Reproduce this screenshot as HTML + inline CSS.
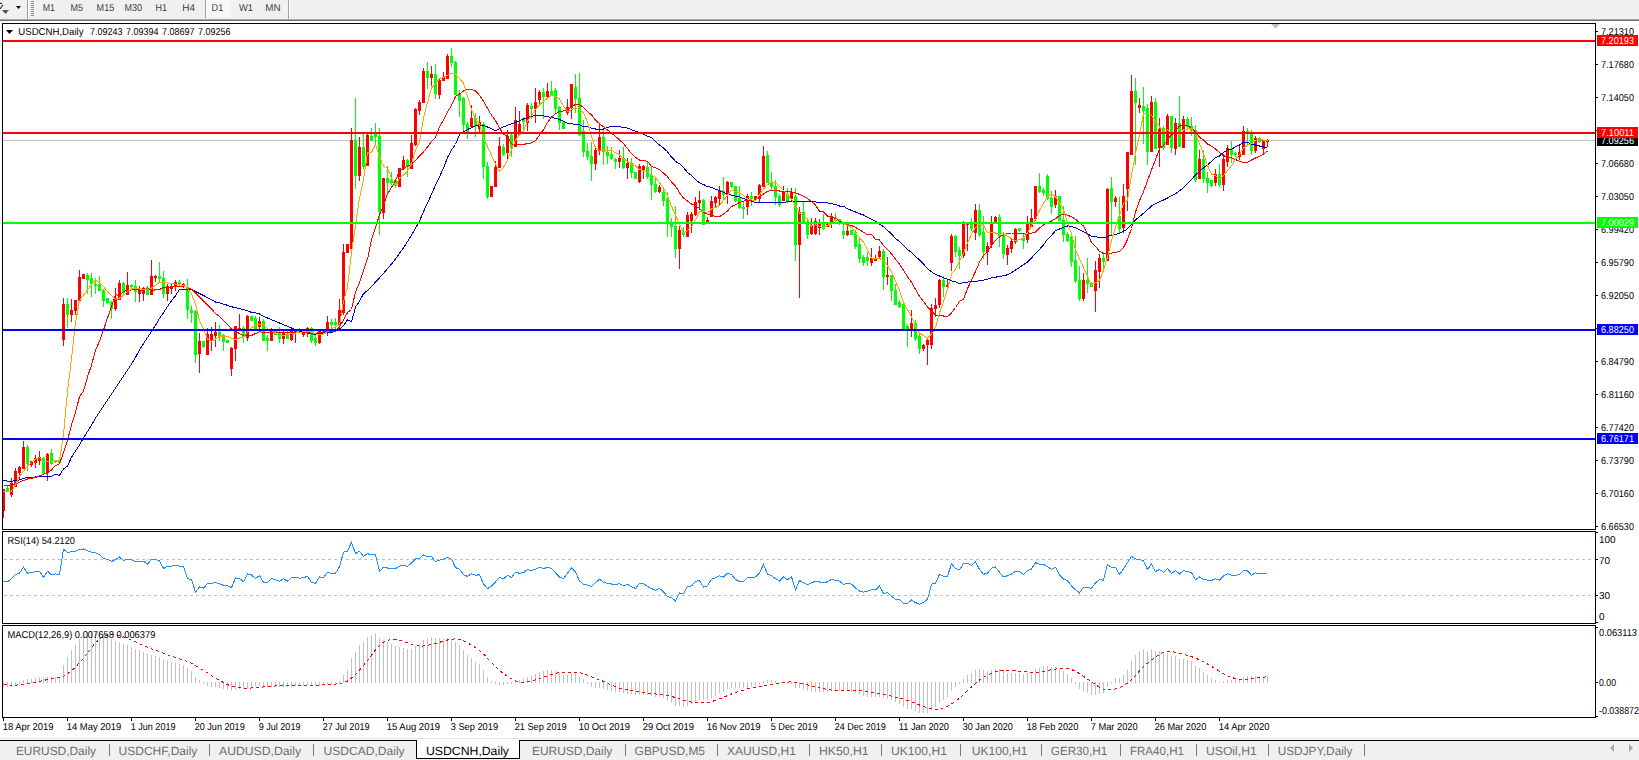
<!DOCTYPE html>
<html><head><meta charset="utf-8"><title>USDCNH,Daily</title>
<style>html,body{margin:0;padding:0;background:#fff;width:1639px;height:760px;overflow:hidden;position:relative;font-family:"Liberation Sans",sans-serif}</style>
</head><body>
<svg width="1639" height="760" viewBox="0 0 1639 760" style="position:absolute;left:0;top:0" font-family='"Liberation Sans", sans-serif' text-rendering="geometricPrecision">
<rect x="0" y="0" width="1639" height="760" fill="#ffffff"/>
<rect x="0" y="0" width="1639" height="19" fill="#f0f0f0"/>
<rect x="0" y="19" width="1639" height="1" fill="#a8a8a8"/>
<rect x="0" y="20" width="1639" height="1" fill="#6e6e6e"/>
<rect x="27" y="0" width="1" height="19" fill="#a0a0a0"/>
<rect x="28" y="0" width="1" height="19" fill="#ffffff"/>
<rect x="31" y="1" width="3" height="1" fill="#8c8c8c"/>
<rect x="31" y="3" width="3" height="1" fill="#8c8c8c"/>
<rect x="31" y="5" width="3" height="1" fill="#8c8c8c"/>
<rect x="31" y="7" width="3" height="1" fill="#8c8c8c"/>
<rect x="31" y="9" width="3" height="1" fill="#8c8c8c"/>
<rect x="31" y="11" width="3" height="1" fill="#8c8c8c"/>
<rect x="31" y="13" width="3" height="1" fill="#8c8c8c"/>
<rect x="31" y="15" width="3" height="1" fill="#8c8c8c"/>
<polygon points="16,6 21,6 18.5,9" fill="#000"/>
<path d="M0,3 L2,4 M3,5 L0,9" stroke="#333" stroke-width="1.2" fill="none"/>
<polygon points="2,10 9,10 5.5,14" fill="#555"/>
<rect x="205" y="0" width="1" height="18" fill="#a0a0a0"/>
<rect x="206" y="0" width="25" height="18" fill="#f7f7f7"/>
<rect x="288" y="0" width="1" height="19" fill="#a0a0a0"/>
<rect x="289" y="0" width="1" height="19" fill="#ffffff"/>
<text x="42.7" y="11" font-size="10" fill="#3c3c3c" text-anchor="start" textLength="12.2" lengthAdjust="spacingAndGlyphs">M1</text>
<text x="70.6" y="11" font-size="10" fill="#3c3c3c" text-anchor="start" textLength="12.4" lengthAdjust="spacingAndGlyphs">M5</text>
<text x="96.6" y="11" font-size="10" fill="#3c3c3c" text-anchor="start" textLength="17.6" lengthAdjust="spacingAndGlyphs">M15</text>
<text x="124.4" y="11" font-size="10" fill="#3c3c3c" text-anchor="start" textLength="17.6" lengthAdjust="spacingAndGlyphs">M30</text>
<text x="155.5" y="11" font-size="10" fill="#3c3c3c" text-anchor="start" textLength="11.5" lengthAdjust="spacingAndGlyphs">H1</text>
<text x="182.3" y="11" font-size="10" fill="#3c3c3c" text-anchor="start" textLength="12.7" lengthAdjust="spacingAndGlyphs">H4</text>
<text x="211.6" y="11" font-size="10" fill="#3c3c3c" text-anchor="start" textLength="11.6" lengthAdjust="spacingAndGlyphs">D1</text>
<text x="239" y="11" font-size="10" fill="#3c3c3c" text-anchor="start" textLength="14" lengthAdjust="spacingAndGlyphs">W1</text>
<text x="265.2" y="11" font-size="10" fill="#3c3c3c" text-anchor="start" textLength="15.3" lengthAdjust="spacingAndGlyphs">MN</text>
<g shape-rendering="crispEdges">
<rect x="2.5" y="23.5" width="1593" height="506" fill="none" stroke="#000" stroke-width="1"/>
<rect x="2.5" y="531.5" width="1593" height="92" fill="none" stroke="#000" stroke-width="1"/>
<rect x="2.5" y="625.5" width="1593" height="92" fill="none" stroke="#000" stroke-width="1"/>
</g>
<rect x="1596" y="31" width="2" height="1" fill="#000"/>
<text x="1601" y="34.5" font-size="10" fill="#000" text-anchor="start" textLength="33" lengthAdjust="spacingAndGlyphs">7.21310</text>
<rect x="1596" y="64" width="2" height="1" fill="#000"/>
<text x="1601" y="67.5" font-size="10" fill="#000" text-anchor="start" textLength="33" lengthAdjust="spacingAndGlyphs">7.17680</text>
<rect x="1596" y="97" width="2" height="1" fill="#000"/>
<text x="1601" y="100.5" font-size="10" fill="#000" text-anchor="start" textLength="33" lengthAdjust="spacingAndGlyphs">7.14050</text>
<rect x="1596" y="130" width="2" height="1" fill="#000"/>
<text x="1601" y="133.5" font-size="10" fill="#000" text-anchor="start" textLength="33" lengthAdjust="spacingAndGlyphs">7.10420</text>
<rect x="1596" y="163" width="2" height="1" fill="#000"/>
<text x="1601" y="166.5" font-size="10" fill="#000" text-anchor="start" textLength="33" lengthAdjust="spacingAndGlyphs">7.06680</text>
<rect x="1596" y="196" width="2" height="1" fill="#000"/>
<text x="1601" y="199.5" font-size="10" fill="#000" text-anchor="start" textLength="33" lengthAdjust="spacingAndGlyphs">7.03050</text>
<rect x="1596" y="229" width="2" height="1" fill="#000"/>
<text x="1601" y="232.5" font-size="10" fill="#000" text-anchor="start" textLength="33" lengthAdjust="spacingAndGlyphs">6.99420</text>
<rect x="1596" y="262" width="2" height="1" fill="#000"/>
<text x="1601" y="265.5" font-size="10" fill="#000" text-anchor="start" textLength="33" lengthAdjust="spacingAndGlyphs">6.95790</text>
<rect x="1596" y="295" width="2" height="1" fill="#000"/>
<text x="1601" y="298.5" font-size="10" fill="#000" text-anchor="start" textLength="33" lengthAdjust="spacingAndGlyphs">6.92050</text>
<rect x="1596" y="328" width="2" height="1" fill="#000"/>
<text x="1601" y="331.5" font-size="10" fill="#000" text-anchor="start" textLength="33" lengthAdjust="spacingAndGlyphs">6.88420</text>
<rect x="1596" y="361" width="2" height="1" fill="#000"/>
<text x="1601" y="364.5" font-size="10" fill="#000" text-anchor="start" textLength="33" lengthAdjust="spacingAndGlyphs">6.84790</text>
<rect x="1596" y="394" width="2" height="1" fill="#000"/>
<text x="1601" y="397.5" font-size="10" fill="#000" text-anchor="start" textLength="33" lengthAdjust="spacingAndGlyphs">6.81160</text>
<rect x="1596" y="427" width="2" height="1" fill="#000"/>
<text x="1601" y="430.5" font-size="10" fill="#000" text-anchor="start" textLength="33" lengthAdjust="spacingAndGlyphs">6.77420</text>
<rect x="1596" y="460" width="2" height="1" fill="#000"/>
<text x="1601" y="463.5" font-size="10" fill="#000" text-anchor="start" textLength="33" lengthAdjust="spacingAndGlyphs">6.73790</text>
<rect x="1596" y="493" width="2" height="1" fill="#000"/>
<text x="1601" y="496.5" font-size="10" fill="#000" text-anchor="start" textLength="33" lengthAdjust="spacingAndGlyphs">6.70160</text>
<rect x="1596" y="526" width="2" height="1" fill="#000"/>
<text x="1601" y="529.5" font-size="10" fill="#000" text-anchor="start" textLength="33" lengthAdjust="spacingAndGlyphs">6.66530</text>
<polygon points="1271,24 1280,24 1275.5,28.5" fill="#c0c0c0"/>
<defs><clipPath id="cm"><rect x="3" y="24" width="1592" height="505"/></clipPath><clipPath id="cr"><rect x="3" y="532" width="1592" height="90"/></clipPath><clipPath id="cd"><rect x="3" y="626" width="1592" height="91"/></clipPath></defs>
<g clip-path="url(#cm)">
<g shape-rendering="crispEdges">
<rect x="3" y="140" width="1592" height="1" fill="#c0c0c0"/>
<rect x="3" y="489" width="1" height="29" fill="#ff0000"/>
<rect x="2" y="489" width="3" height="22" fill="#ff0000"/>
<rect x="7" y="486" width="1" height="6" fill="#00ff00"/>
<rect x="6" y="488" width="3" height="4" fill="#00ff00"/>
<rect x="11" y="478" width="1" height="19" fill="#ff0000"/>
<rect x="10" y="483" width="3" height="12" fill="#ff0000"/>
<rect x="15" y="468" width="1" height="19" fill="#ff0000"/>
<rect x="14" y="471" width="3" height="16" fill="#ff0000"/>
<rect x="19" y="466" width="1" height="13" fill="#ff0000"/>
<rect x="18" y="467" width="3" height="6" fill="#ff0000"/>
<rect x="23" y="441" width="1" height="28" fill="#ff0000"/>
<rect x="22" y="447" width="3" height="22" fill="#ff0000"/>
<rect x="27" y="445" width="1" height="26" fill="#00ff00"/>
<rect x="26" y="447" width="3" height="17" fill="#00ff00"/>
<rect x="31" y="461" width="1" height="6" fill="#ff0000"/>
<rect x="30" y="461" width="3" height="4" fill="#ff0000"/>
<rect x="35" y="455" width="1" height="13" fill="#ff0000"/>
<rect x="34" y="458" width="3" height="5" fill="#ff0000"/>
<rect x="39" y="451" width="1" height="14" fill="#ff0000"/>
<rect x="38" y="457" width="3" height="4" fill="#ff0000"/>
<rect x="43" y="457" width="1" height="18" fill="#00ff00"/>
<rect x="42" y="458" width="3" height="15" fill="#00ff00"/>
<rect x="47" y="453" width="1" height="28" fill="#ff0000"/>
<rect x="46" y="454" width="3" height="19" fill="#ff0000"/>
<rect x="51" y="449" width="1" height="16" fill="#00ff00"/>
<rect x="50" y="453" width="3" height="11" fill="#00ff00"/>
<rect x="55" y="460" width="1" height="3" fill="#00ff00"/>
<rect x="54" y="460" width="3" height="2" fill="#00ff00"/>
<rect x="59" y="460" width="1" height="3" fill="#00ff00"/>
<rect x="58" y="460" width="3" height="3" fill="#00ff00"/>
<rect x="63" y="298" width="1" height="48" fill="#ff0000"/>
<rect x="62" y="304" width="3" height="36" fill="#ff0000"/>
<rect x="67" y="298" width="1" height="30" fill="#00ff00"/>
<rect x="66" y="304" width="3" height="11" fill="#00ff00"/>
<rect x="71" y="299" width="1" height="23" fill="#ff0000"/>
<rect x="70" y="310" width="3" height="5" fill="#ff0000"/>
<rect x="75" y="300" width="1" height="15" fill="#ff0000"/>
<rect x="74" y="300" width="3" height="11" fill="#ff0000"/>
<rect x="79" y="270" width="1" height="31" fill="#ff0000"/>
<rect x="78" y="277" width="3" height="24" fill="#ff0000"/>
<rect x="83" y="274" width="1" height="5" fill="#ff0000"/>
<rect x="82" y="274" width="3" height="5" fill="#ff0000"/>
<rect x="87" y="273" width="1" height="21" fill="#00ff00"/>
<rect x="86" y="275" width="3" height="5" fill="#00ff00"/>
<rect x="91" y="273" width="1" height="24" fill="#00ff00"/>
<rect x="90" y="278" width="3" height="6" fill="#00ff00"/>
<rect x="95" y="278" width="1" height="16" fill="#00ff00"/>
<rect x="94" y="284" width="3" height="2" fill="#00ff00"/>
<rect x="99" y="276" width="1" height="15" fill="#00ff00"/>
<rect x="98" y="284" width="3" height="7" fill="#00ff00"/>
<rect x="103" y="289" width="1" height="18" fill="#00ff00"/>
<rect x="102" y="290" width="3" height="11" fill="#00ff00"/>
<rect x="107" y="298" width="1" height="6" fill="#00ff00"/>
<rect x="106" y="298" width="3" height="5" fill="#00ff00"/>
<rect x="111" y="301" width="1" height="18" fill="#00ff00"/>
<rect x="110" y="302" width="3" height="7" fill="#00ff00"/>
<rect x="115" y="288" width="1" height="23" fill="#ff0000"/>
<rect x="114" y="298" width="3" height="11" fill="#ff0000"/>
<rect x="119" y="280" width="1" height="20" fill="#ff0000"/>
<rect x="118" y="283" width="3" height="17" fill="#ff0000"/>
<rect x="123" y="282" width="1" height="14" fill="#00ff00"/>
<rect x="122" y="283" width="3" height="10" fill="#00ff00"/>
<rect x="127" y="272" width="1" height="23" fill="#ff0000"/>
<rect x="126" y="285" width="3" height="10" fill="#ff0000"/>
<rect x="131" y="284" width="1" height="5" fill="#00ff00"/>
<rect x="130" y="285" width="3" height="2" fill="#00ff00"/>
<rect x="135" y="280" width="1" height="22" fill="#00ff00"/>
<rect x="134" y="286" width="3" height="6" fill="#00ff00"/>
<rect x="139" y="286" width="1" height="16" fill="#ff0000"/>
<rect x="138" y="290" width="3" height="4" fill="#ff0000"/>
<rect x="143" y="287" width="1" height="14" fill="#ff0000"/>
<rect x="142" y="288" width="3" height="6" fill="#ff0000"/>
<rect x="147" y="286" width="1" height="9" fill="#00ff00"/>
<rect x="146" y="289" width="3" height="6" fill="#00ff00"/>
<rect x="151" y="260" width="1" height="35" fill="#ff0000"/>
<rect x="150" y="276" width="3" height="19" fill="#ff0000"/>
<rect x="155" y="275" width="1" height="7" fill="#ff0000"/>
<rect x="154" y="276" width="3" height="2" fill="#ff0000"/>
<rect x="159" y="262" width="1" height="20" fill="#00ff00"/>
<rect x="158" y="276" width="3" height="3" fill="#00ff00"/>
<rect x="163" y="271" width="1" height="27" fill="#00ff00"/>
<rect x="162" y="278" width="3" height="16" fill="#00ff00"/>
<rect x="167" y="284" width="1" height="17" fill="#ff0000"/>
<rect x="166" y="286" width="3" height="8" fill="#ff0000"/>
<rect x="171" y="284" width="1" height="10" fill="#ff0000"/>
<rect x="170" y="286" width="3" height="3" fill="#ff0000"/>
<rect x="175" y="280" width="1" height="11" fill="#ff0000"/>
<rect x="174" y="282" width="3" height="5" fill="#ff0000"/>
<rect x="179" y="280" width="1" height="7" fill="#00ff00"/>
<rect x="178" y="282" width="3" height="3" fill="#00ff00"/>
<rect x="183" y="283" width="1" height="5" fill="#ff0000"/>
<rect x="182" y="284" width="3" height="3" fill="#ff0000"/>
<rect x="187" y="279" width="1" height="40" fill="#00ff00"/>
<rect x="186" y="287" width="3" height="23" fill="#00ff00"/>
<rect x="191" y="306" width="1" height="17" fill="#00ff00"/>
<rect x="190" y="310" width="3" height="3" fill="#00ff00"/>
<rect x="195" y="310" width="1" height="53" fill="#00ff00"/>
<rect x="194" y="311" width="3" height="44" fill="#00ff00"/>
<rect x="199" y="333" width="1" height="40" fill="#ff0000"/>
<rect x="198" y="341" width="3" height="13" fill="#ff0000"/>
<rect x="203" y="341" width="1" height="7" fill="#00ff00"/>
<rect x="202" y="341" width="3" height="6" fill="#00ff00"/>
<rect x="207" y="328" width="1" height="27" fill="#ff0000"/>
<rect x="206" y="334" width="3" height="21" fill="#ff0000"/>
<rect x="211" y="327" width="1" height="24" fill="#ff0000"/>
<rect x="210" y="334" width="3" height="7" fill="#ff0000"/>
<rect x="215" y="322" width="1" height="25" fill="#ff0000"/>
<rect x="214" y="332" width="3" height="4" fill="#ff0000"/>
<rect x="219" y="325" width="1" height="16" fill="#00ff00"/>
<rect x="218" y="332" width="3" height="5" fill="#00ff00"/>
<rect x="223" y="334" width="1" height="17" fill="#00ff00"/>
<rect x="222" y="335" width="3" height="7" fill="#00ff00"/>
<rect x="227" y="340" width="1" height="3" fill="#00ff00"/>
<rect x="226" y="340" width="3" height="3" fill="#00ff00"/>
<rect x="231" y="347" width="1" height="29" fill="#ff0000"/>
<rect x="230" y="348" width="3" height="21" fill="#ff0000"/>
<rect x="235" y="326" width="1" height="35" fill="#ff0000"/>
<rect x="234" y="326" width="3" height="23" fill="#ff0000"/>
<rect x="239" y="314" width="1" height="17" fill="#ff0000"/>
<rect x="238" y="328" width="3" height="3" fill="#ff0000"/>
<rect x="243" y="326" width="1" height="17" fill="#00ff00"/>
<rect x="242" y="328" width="3" height="9" fill="#00ff00"/>
<rect x="247" y="315" width="1" height="26" fill="#ff0000"/>
<rect x="246" y="316" width="3" height="22" fill="#ff0000"/>
<rect x="251" y="316" width="1" height="5" fill="#00ff00"/>
<rect x="250" y="316" width="3" height="5" fill="#00ff00"/>
<rect x="255" y="316" width="1" height="13" fill="#00ff00"/>
<rect x="254" y="318" width="3" height="11" fill="#00ff00"/>
<rect x="259" y="317" width="1" height="13" fill="#ff0000"/>
<rect x="258" y="321" width="3" height="6" fill="#ff0000"/>
<rect x="263" y="319" width="1" height="22" fill="#00ff00"/>
<rect x="262" y="321" width="3" height="20" fill="#00ff00"/>
<rect x="267" y="335" width="1" height="16" fill="#00ff00"/>
<rect x="266" y="338" width="3" height="3" fill="#00ff00"/>
<rect x="271" y="328" width="1" height="13" fill="#ff0000"/>
<rect x="270" y="331" width="3" height="10" fill="#ff0000"/>
<rect x="275" y="331" width="1" height="4" fill="#00ff00"/>
<rect x="274" y="331" width="3" height="4" fill="#00ff00"/>
<rect x="279" y="327" width="1" height="16" fill="#00ff00"/>
<rect x="278" y="332" width="3" height="7" fill="#00ff00"/>
<rect x="283" y="330" width="1" height="14" fill="#ff0000"/>
<rect x="282" y="332" width="3" height="7" fill="#ff0000"/>
<rect x="287" y="331" width="1" height="8" fill="#00ff00"/>
<rect x="286" y="334" width="3" height="5" fill="#00ff00"/>
<rect x="291" y="327" width="1" height="14" fill="#ff0000"/>
<rect x="290" y="330" width="3" height="10" fill="#ff0000"/>
<rect x="295" y="330" width="1" height="13" fill="#ff0000"/>
<rect x="294" y="330" width="3" height="3" fill="#ff0000"/>
<rect x="299" y="328" width="1" height="5" fill="#00ff00"/>
<rect x="298" y="330" width="3" height="3" fill="#00ff00"/>
<rect x="303" y="331" width="1" height="6" fill="#ff0000"/>
<rect x="302" y="331" width="3" height="4" fill="#ff0000"/>
<rect x="307" y="327" width="1" height="10" fill="#ff0000"/>
<rect x="306" y="328" width="3" height="5" fill="#ff0000"/>
<rect x="311" y="327" width="1" height="16" fill="#00ff00"/>
<rect x="310" y="328" width="3" height="13" fill="#00ff00"/>
<rect x="315" y="334" width="1" height="12" fill="#00ff00"/>
<rect x="314" y="338" width="3" height="5" fill="#00ff00"/>
<rect x="319" y="331" width="1" height="13" fill="#ff0000"/>
<rect x="318" y="331" width="3" height="12" fill="#ff0000"/>
<rect x="323" y="330" width="1" height="3" fill="#00ff00"/>
<rect x="322" y="330" width="3" height="3" fill="#00ff00"/>
<rect x="327" y="316" width="1" height="20" fill="#ff0000"/>
<rect x="326" y="322" width="3" height="10" fill="#ff0000"/>
<rect x="331" y="319" width="1" height="11" fill="#00ff00"/>
<rect x="330" y="322" width="3" height="3" fill="#00ff00"/>
<rect x="335" y="318" width="1" height="12" fill="#00ff00"/>
<rect x="334" y="322" width="3" height="3" fill="#00ff00"/>
<rect x="339" y="299" width="1" height="26" fill="#ff0000"/>
<rect x="338" y="310" width="3" height="15" fill="#ff0000"/>
<rect x="343" y="244" width="1" height="71" fill="#ff0000"/>
<rect x="342" y="252" width="3" height="61" fill="#ff0000"/>
<rect x="347" y="244" width="1" height="9" fill="#ff0000"/>
<rect x="346" y="244" width="3" height="9" fill="#ff0000"/>
<rect x="351" y="128" width="1" height="121" fill="#ff0000"/>
<rect x="350" y="140" width="3" height="109" fill="#ff0000"/>
<rect x="355" y="98" width="1" height="91" fill="#00ff00"/>
<rect x="354" y="140" width="3" height="36" fill="#00ff00"/>
<rect x="359" y="137" width="1" height="44" fill="#ff0000"/>
<rect x="358" y="147" width="3" height="29" fill="#ff0000"/>
<rect x="363" y="134" width="1" height="35" fill="#00ff00"/>
<rect x="362" y="147" width="3" height="20" fill="#00ff00"/>
<rect x="367" y="134" width="1" height="32" fill="#ff0000"/>
<rect x="366" y="135" width="3" height="31" fill="#ff0000"/>
<rect x="371" y="128" width="1" height="13" fill="#00ff00"/>
<rect x="370" y="136" width="3" height="5" fill="#00ff00"/>
<rect x="375" y="123" width="1" height="22" fill="#00ff00"/>
<rect x="374" y="134" width="3" height="3" fill="#00ff00"/>
<rect x="379" y="128" width="1" height="107" fill="#00ff00"/>
<rect x="378" y="136" width="3" height="76" fill="#00ff00"/>
<rect x="383" y="178" width="1" height="41" fill="#ff0000"/>
<rect x="382" y="178" width="3" height="35" fill="#ff0000"/>
<rect x="387" y="166" width="1" height="29" fill="#00ff00"/>
<rect x="386" y="178" width="3" height="5" fill="#00ff00"/>
<rect x="391" y="172" width="1" height="13" fill="#00ff00"/>
<rect x="390" y="180" width="3" height="3" fill="#00ff00"/>
<rect x="395" y="180" width="1" height="7" fill="#00ff00"/>
<rect x="394" y="180" width="3" height="6" fill="#00ff00"/>
<rect x="399" y="168" width="1" height="19" fill="#ff0000"/>
<rect x="398" y="168" width="3" height="19" fill="#ff0000"/>
<rect x="403" y="156" width="1" height="13" fill="#ff0000"/>
<rect x="402" y="160" width="3" height="9" fill="#ff0000"/>
<rect x="407" y="159" width="1" height="18" fill="#00ff00"/>
<rect x="406" y="160" width="3" height="7" fill="#00ff00"/>
<rect x="411" y="135" width="1" height="34" fill="#ff0000"/>
<rect x="410" y="143" width="3" height="26" fill="#ff0000"/>
<rect x="415" y="108" width="1" height="38" fill="#ff0000"/>
<rect x="414" y="109" width="3" height="36" fill="#ff0000"/>
<rect x="419" y="100" width="1" height="15" fill="#ff0000"/>
<rect x="418" y="102" width="3" height="9" fill="#ff0000"/>
<rect x="423" y="68" width="1" height="35" fill="#ff0000"/>
<rect x="422" y="71" width="3" height="32" fill="#ff0000"/>
<rect x="427" y="62" width="1" height="27" fill="#00ff00"/>
<rect x="426" y="71" width="3" height="7" fill="#00ff00"/>
<rect x="431" y="66" width="1" height="20" fill="#ff0000"/>
<rect x="430" y="74" width="3" height="4" fill="#ff0000"/>
<rect x="435" y="64" width="1" height="35" fill="#00ff00"/>
<rect x="434" y="74" width="3" height="20" fill="#00ff00"/>
<rect x="439" y="79" width="1" height="20" fill="#ff0000"/>
<rect x="438" y="80" width="3" height="15" fill="#ff0000"/>
<rect x="443" y="72" width="1" height="9" fill="#ff0000"/>
<rect x="442" y="77" width="3" height="4" fill="#ff0000"/>
<rect x="447" y="54" width="1" height="25" fill="#ff0000"/>
<rect x="446" y="56" width="3" height="23" fill="#ff0000"/>
<rect x="451" y="48" width="1" height="19" fill="#00ff00"/>
<rect x="450" y="56" width="3" height="7" fill="#00ff00"/>
<rect x="455" y="61" width="1" height="34" fill="#00ff00"/>
<rect x="454" y="62" width="3" height="33" fill="#00ff00"/>
<rect x="459" y="90" width="1" height="27" fill="#00ff00"/>
<rect x="458" y="93" width="3" height="8" fill="#00ff00"/>
<rect x="463" y="97" width="1" height="36" fill="#00ff00"/>
<rect x="462" y="98" width="3" height="27" fill="#00ff00"/>
<rect x="467" y="122" width="1" height="17" fill="#00ff00"/>
<rect x="466" y="124" width="3" height="9" fill="#00ff00"/>
<rect x="471" y="105" width="1" height="22" fill="#ff0000"/>
<rect x="470" y="118" width="3" height="9" fill="#ff0000"/>
<rect x="475" y="113" width="1" height="24" fill="#00ff00"/>
<rect x="474" y="118" width="3" height="8" fill="#00ff00"/>
<rect x="479" y="116" width="1" height="17" fill="#ff0000"/>
<rect x="478" y="122" width="3" height="7" fill="#ff0000"/>
<rect x="483" y="122" width="1" height="57" fill="#00ff00"/>
<rect x="482" y="124" width="3" height="43" fill="#00ff00"/>
<rect x="487" y="162" width="1" height="37" fill="#00ff00"/>
<rect x="486" y="166" width="3" height="31" fill="#00ff00"/>
<rect x="491" y="186" width="1" height="11" fill="#ff0000"/>
<rect x="490" y="186" width="3" height="11" fill="#ff0000"/>
<rect x="495" y="161" width="1" height="26" fill="#ff0000"/>
<rect x="494" y="167" width="3" height="20" fill="#ff0000"/>
<rect x="499" y="137" width="1" height="31" fill="#ff0000"/>
<rect x="498" y="146" width="3" height="22" fill="#ff0000"/>
<rect x="503" y="144" width="1" height="12" fill="#00ff00"/>
<rect x="502" y="147" width="3" height="8" fill="#00ff00"/>
<rect x="507" y="130" width="1" height="31" fill="#ff0000"/>
<rect x="506" y="136" width="3" height="17" fill="#ff0000"/>
<rect x="511" y="132" width="1" height="25" fill="#00ff00"/>
<rect x="510" y="135" width="3" height="13" fill="#00ff00"/>
<rect x="515" y="107" width="1" height="40" fill="#ff0000"/>
<rect x="514" y="120" width="3" height="27" fill="#ff0000"/>
<rect x="519" y="111" width="1" height="25" fill="#ff0000"/>
<rect x="518" y="124" width="3" height="11" fill="#ff0000"/>
<rect x="523" y="117" width="1" height="16" fill="#00ff00"/>
<rect x="522" y="118" width="3" height="4" fill="#00ff00"/>
<rect x="527" y="103" width="1" height="28" fill="#ff0000"/>
<rect x="526" y="105" width="3" height="18" fill="#ff0000"/>
<rect x="531" y="103" width="1" height="16" fill="#00ff00"/>
<rect x="530" y="106" width="3" height="3" fill="#00ff00"/>
<rect x="535" y="88" width="1" height="35" fill="#ff0000"/>
<rect x="534" y="102" width="3" height="7" fill="#ff0000"/>
<rect x="539" y="90" width="1" height="14" fill="#ff0000"/>
<rect x="538" y="92" width="3" height="8" fill="#ff0000"/>
<rect x="543" y="88" width="1" height="31" fill="#00ff00"/>
<rect x="542" y="92" width="3" height="5" fill="#00ff00"/>
<rect x="547" y="83" width="1" height="16" fill="#ff0000"/>
<rect x="546" y="91" width="3" height="6" fill="#ff0000"/>
<rect x="551" y="81" width="1" height="15" fill="#00ff00"/>
<rect x="550" y="91" width="3" height="4" fill="#00ff00"/>
<rect x="555" y="88" width="1" height="25" fill="#00ff00"/>
<rect x="554" y="90" width="3" height="19" fill="#00ff00"/>
<rect x="559" y="106" width="1" height="24" fill="#00ff00"/>
<rect x="558" y="107" width="3" height="16" fill="#00ff00"/>
<rect x="563" y="121" width="1" height="8" fill="#00ff00"/>
<rect x="562" y="122" width="3" height="7" fill="#00ff00"/>
<rect x="567" y="99" width="1" height="16" fill="#ff0000"/>
<rect x="566" y="107" width="3" height="6" fill="#ff0000"/>
<rect x="571" y="84" width="1" height="35" fill="#ff0000"/>
<rect x="570" y="84" width="3" height="24" fill="#ff0000"/>
<rect x="575" y="74" width="1" height="39" fill="#00ff00"/>
<rect x="574" y="87" width="3" height="12" fill="#00ff00"/>
<rect x="579" y="73" width="1" height="63" fill="#00ff00"/>
<rect x="578" y="98" width="3" height="37" fill="#00ff00"/>
<rect x="583" y="120" width="1" height="37" fill="#00ff00"/>
<rect x="582" y="131" width="3" height="21" fill="#00ff00"/>
<rect x="587" y="143" width="1" height="17" fill="#00ff00"/>
<rect x="586" y="151" width="3" height="6" fill="#00ff00"/>
<rect x="591" y="142" width="1" height="39" fill="#00ff00"/>
<rect x="590" y="156" width="3" height="8" fill="#00ff00"/>
<rect x="595" y="146" width="1" height="24" fill="#ff0000"/>
<rect x="594" y="150" width="3" height="14" fill="#ff0000"/>
<rect x="599" y="124" width="1" height="31" fill="#ff0000"/>
<rect x="598" y="137" width="3" height="14" fill="#ff0000"/>
<rect x="603" y="129" width="1" height="36" fill="#00ff00"/>
<rect x="602" y="137" width="3" height="15" fill="#00ff00"/>
<rect x="607" y="146" width="1" height="18" fill="#00ff00"/>
<rect x="606" y="152" width="3" height="4" fill="#00ff00"/>
<rect x="611" y="147" width="1" height="13" fill="#00ff00"/>
<rect x="610" y="154" width="3" height="5" fill="#00ff00"/>
<rect x="615" y="158" width="1" height="11" fill="#00ff00"/>
<rect x="614" y="159" width="3" height="3" fill="#00ff00"/>
<rect x="619" y="150" width="1" height="18" fill="#ff0000"/>
<rect x="618" y="158" width="3" height="4" fill="#ff0000"/>
<rect x="623" y="147" width="1" height="22" fill="#00ff00"/>
<rect x="622" y="158" width="3" height="10" fill="#00ff00"/>
<rect x="627" y="158" width="1" height="21" fill="#ff0000"/>
<rect x="626" y="163" width="3" height="5" fill="#ff0000"/>
<rect x="631" y="158" width="1" height="20" fill="#00ff00"/>
<rect x="630" y="163" width="3" height="10" fill="#00ff00"/>
<rect x="635" y="172" width="1" height="7" fill="#00ff00"/>
<rect x="634" y="172" width="3" height="7" fill="#00ff00"/>
<rect x="639" y="164" width="1" height="19" fill="#ff0000"/>
<rect x="638" y="166" width="3" height="16" fill="#ff0000"/>
<rect x="643" y="165" width="1" height="14" fill="#ff0000"/>
<rect x="642" y="166" width="3" height="5" fill="#ff0000"/>
<rect x="647" y="162" width="1" height="17" fill="#00ff00"/>
<rect x="646" y="167" width="3" height="10" fill="#00ff00"/>
<rect x="651" y="166" width="1" height="34" fill="#00ff00"/>
<rect x="650" y="175" width="3" height="10" fill="#00ff00"/>
<rect x="655" y="178" width="1" height="15" fill="#00ff00"/>
<rect x="654" y="184" width="3" height="8" fill="#00ff00"/>
<rect x="659" y="185" width="1" height="8" fill="#ff0000"/>
<rect x="658" y="187" width="3" height="5" fill="#ff0000"/>
<rect x="663" y="188" width="1" height="18" fill="#00ff00"/>
<rect x="662" y="192" width="3" height="9" fill="#00ff00"/>
<rect x="667" y="192" width="1" height="45" fill="#00ff00"/>
<rect x="666" y="199" width="3" height="25" fill="#00ff00"/>
<rect x="671" y="218" width="1" height="19" fill="#00ff00"/>
<rect x="670" y="223" width="3" height="4" fill="#00ff00"/>
<rect x="675" y="206" width="1" height="52" fill="#00ff00"/>
<rect x="674" y="226" width="3" height="23" fill="#00ff00"/>
<rect x="679" y="226" width="1" height="43" fill="#ff0000"/>
<rect x="678" y="230" width="3" height="19" fill="#ff0000"/>
<rect x="683" y="227" width="1" height="10" fill="#00ff00"/>
<rect x="682" y="232" width="3" height="3" fill="#00ff00"/>
<rect x="687" y="212" width="1" height="25" fill="#ff0000"/>
<rect x="686" y="215" width="3" height="22" fill="#ff0000"/>
<rect x="691" y="212" width="1" height="21" fill="#ff0000"/>
<rect x="690" y="214" width="3" height="7" fill="#ff0000"/>
<rect x="695" y="197" width="1" height="19" fill="#ff0000"/>
<rect x="694" y="202" width="3" height="13" fill="#ff0000"/>
<rect x="699" y="191" width="1" height="19" fill="#ff0000"/>
<rect x="698" y="200" width="3" height="3" fill="#ff0000"/>
<rect x="703" y="199" width="1" height="26" fill="#00ff00"/>
<rect x="702" y="200" width="3" height="25" fill="#00ff00"/>
<rect x="707" y="217" width="1" height="6" fill="#ff0000"/>
<rect x="706" y="220" width="3" height="3" fill="#ff0000"/>
<rect x="711" y="196" width="1" height="21" fill="#ff0000"/>
<rect x="710" y="201" width="3" height="16" fill="#ff0000"/>
<rect x="715" y="196" width="1" height="11" fill="#ff0000"/>
<rect x="714" y="197" width="3" height="6" fill="#ff0000"/>
<rect x="719" y="186" width="1" height="20" fill="#ff0000"/>
<rect x="718" y="190" width="3" height="9" fill="#ff0000"/>
<rect x="723" y="177" width="1" height="24" fill="#00ff00"/>
<rect x="722" y="191" width="3" height="4" fill="#00ff00"/>
<rect x="727" y="181" width="1" height="23" fill="#ff0000"/>
<rect x="726" y="182" width="3" height="13" fill="#ff0000"/>
<rect x="731" y="182" width="1" height="6" fill="#00ff00"/>
<rect x="730" y="182" width="3" height="5" fill="#00ff00"/>
<rect x="735" y="186" width="1" height="16" fill="#00ff00"/>
<rect x="734" y="186" width="3" height="15" fill="#00ff00"/>
<rect x="739" y="186" width="1" height="23" fill="#00ff00"/>
<rect x="738" y="198" width="3" height="10" fill="#00ff00"/>
<rect x="743" y="201" width="1" height="18" fill="#00ff00"/>
<rect x="742" y="207" width="3" height="2" fill="#00ff00"/>
<rect x="747" y="194" width="1" height="21" fill="#ff0000"/>
<rect x="746" y="196" width="3" height="11" fill="#ff0000"/>
<rect x="751" y="192" width="1" height="14" fill="#00ff00"/>
<rect x="750" y="196" width="3" height="3" fill="#00ff00"/>
<rect x="755" y="196" width="1" height="3" fill="#ff0000"/>
<rect x="754" y="196" width="3" height="3" fill="#ff0000"/>
<rect x="759" y="184" width="1" height="19" fill="#ff0000"/>
<rect x="758" y="185" width="3" height="14" fill="#ff0000"/>
<rect x="763" y="146" width="1" height="41" fill="#ff0000"/>
<rect x="762" y="156" width="3" height="31" fill="#ff0000"/>
<rect x="767" y="151" width="1" height="32" fill="#00ff00"/>
<rect x="766" y="155" width="3" height="28" fill="#00ff00"/>
<rect x="771" y="172" width="1" height="19" fill="#00ff00"/>
<rect x="770" y="182" width="3" height="5" fill="#00ff00"/>
<rect x="775" y="180" width="1" height="25" fill="#00ff00"/>
<rect x="774" y="186" width="3" height="11" fill="#00ff00"/>
<rect x="779" y="194" width="1" height="13" fill="#00ff00"/>
<rect x="778" y="196" width="3" height="9" fill="#00ff00"/>
<rect x="783" y="186" width="1" height="15" fill="#ff0000"/>
<rect x="782" y="192" width="3" height="9" fill="#ff0000"/>
<rect x="787" y="188" width="1" height="15" fill="#00ff00"/>
<rect x="786" y="194" width="3" height="7" fill="#00ff00"/>
<rect x="791" y="188" width="1" height="13" fill="#ff0000"/>
<rect x="790" y="192" width="3" height="7" fill="#ff0000"/>
<rect x="795" y="188" width="1" height="73" fill="#00ff00"/>
<rect x="794" y="196" width="3" height="49" fill="#00ff00"/>
<rect x="799" y="207" width="1" height="91" fill="#ff0000"/>
<rect x="798" y="212" width="3" height="33" fill="#ff0000"/>
<rect x="803" y="202" width="1" height="22" fill="#00ff00"/>
<rect x="802" y="212" width="3" height="12" fill="#00ff00"/>
<rect x="807" y="218" width="1" height="21" fill="#00ff00"/>
<rect x="806" y="223" width="3" height="12" fill="#00ff00"/>
<rect x="811" y="218" width="1" height="17" fill="#ff0000"/>
<rect x="810" y="226" width="3" height="8" fill="#ff0000"/>
<rect x="815" y="218" width="1" height="17" fill="#ff0000"/>
<rect x="814" y="221" width="3" height="13" fill="#ff0000"/>
<rect x="819" y="219" width="1" height="16" fill="#ff0000"/>
<rect x="818" y="224" width="3" height="4" fill="#ff0000"/>
<rect x="823" y="214" width="1" height="16" fill="#00ff00"/>
<rect x="822" y="224" width="3" height="5" fill="#00ff00"/>
<rect x="827" y="224" width="1" height="3" fill="#ff0000"/>
<rect x="826" y="224" width="3" height="3" fill="#ff0000"/>
<rect x="831" y="213" width="1" height="15" fill="#ff0000"/>
<rect x="830" y="217" width="3" height="6" fill="#ff0000"/>
<rect x="835" y="213" width="1" height="10" fill="#00ff00"/>
<rect x="834" y="217" width="3" height="4" fill="#00ff00"/>
<rect x="839" y="219" width="1" height="6" fill="#00ff00"/>
<rect x="838" y="219" width="3" height="4" fill="#00ff00"/>
<rect x="843" y="224" width="1" height="15" fill="#00ff00"/>
<rect x="842" y="231" width="3" height="4" fill="#00ff00"/>
<rect x="847" y="226" width="1" height="10" fill="#ff0000"/>
<rect x="846" y="231" width="3" height="4" fill="#ff0000"/>
<rect x="851" y="230" width="1" height="5" fill="#00ff00"/>
<rect x="850" y="230" width="3" height="5" fill="#00ff00"/>
<rect x="855" y="230" width="1" height="19" fill="#00ff00"/>
<rect x="854" y="232" width="3" height="15" fill="#00ff00"/>
<rect x="859" y="238" width="1" height="25" fill="#00ff00"/>
<rect x="858" y="244" width="3" height="15" fill="#00ff00"/>
<rect x="863" y="255" width="1" height="11" fill="#00ff00"/>
<rect x="862" y="257" width="3" height="6" fill="#00ff00"/>
<rect x="867" y="252" width="1" height="14" fill="#00ff00"/>
<rect x="866" y="257" width="3" height="4" fill="#00ff00"/>
<rect x="871" y="248" width="1" height="18" fill="#ff0000"/>
<rect x="870" y="258" width="3" height="5" fill="#ff0000"/>
<rect x="875" y="255" width="1" height="6" fill="#ff0000"/>
<rect x="874" y="258" width="3" height="3" fill="#ff0000"/>
<rect x="879" y="246" width="1" height="13" fill="#ff0000"/>
<rect x="878" y="251" width="3" height="6" fill="#ff0000"/>
<rect x="883" y="249" width="1" height="41" fill="#00ff00"/>
<rect x="882" y="251" width="3" height="26" fill="#00ff00"/>
<rect x="887" y="257" width="1" height="28" fill="#ff0000"/>
<rect x="886" y="275" width="3" height="2" fill="#ff0000"/>
<rect x="891" y="275" width="1" height="26" fill="#00ff00"/>
<rect x="890" y="275" width="3" height="16" fill="#00ff00"/>
<rect x="895" y="284" width="1" height="21" fill="#00ff00"/>
<rect x="894" y="290" width="3" height="15" fill="#00ff00"/>
<rect x="899" y="300" width="1" height="8" fill="#00ff00"/>
<rect x="898" y="302" width="3" height="5" fill="#00ff00"/>
<rect x="903" y="302" width="1" height="27" fill="#00ff00"/>
<rect x="902" y="304" width="3" height="25" fill="#00ff00"/>
<rect x="907" y="324" width="1" height="23" fill="#00ff00"/>
<rect x="906" y="326" width="3" height="4" fill="#00ff00"/>
<rect x="911" y="310" width="1" height="27" fill="#ff0000"/>
<rect x="910" y="323" width="3" height="8" fill="#ff0000"/>
<rect x="915" y="320" width="1" height="21" fill="#00ff00"/>
<rect x="914" y="323" width="3" height="16" fill="#00ff00"/>
<rect x="919" y="332" width="1" height="22" fill="#00ff00"/>
<rect x="918" y="336" width="3" height="13" fill="#00ff00"/>
<rect x="923" y="344" width="1" height="7" fill="#ff0000"/>
<rect x="922" y="345" width="3" height="4" fill="#ff0000"/>
<rect x="927" y="339" width="1" height="26" fill="#ff0000"/>
<rect x="926" y="340" width="3" height="5" fill="#ff0000"/>
<rect x="931" y="304" width="1" height="45" fill="#ff0000"/>
<rect x="930" y="308" width="3" height="37" fill="#ff0000"/>
<rect x="935" y="298" width="1" height="19" fill="#ff0000"/>
<rect x="934" y="305" width="3" height="4" fill="#ff0000"/>
<rect x="939" y="279" width="1" height="29" fill="#ff0000"/>
<rect x="938" y="280" width="3" height="25" fill="#ff0000"/>
<rect x="943" y="276" width="1" height="21" fill="#00ff00"/>
<rect x="942" y="280" width="3" height="7" fill="#00ff00"/>
<rect x="947" y="280" width="1" height="8" fill="#ff0000"/>
<rect x="946" y="285" width="3" height="2" fill="#ff0000"/>
<rect x="951" y="234" width="1" height="37" fill="#ff0000"/>
<rect x="950" y="236" width="3" height="27" fill="#ff0000"/>
<rect x="955" y="235" width="1" height="22" fill="#00ff00"/>
<rect x="954" y="236" width="3" height="16" fill="#00ff00"/>
<rect x="959" y="247" width="1" height="22" fill="#00ff00"/>
<rect x="958" y="250" width="3" height="6" fill="#00ff00"/>
<rect x="963" y="221" width="1" height="37" fill="#ff0000"/>
<rect x="962" y="223" width="3" height="33" fill="#ff0000"/>
<rect x="967" y="223" width="1" height="28" fill="#ff0000"/>
<rect x="966" y="223" width="3" height="2" fill="#ff0000"/>
<rect x="971" y="218" width="1" height="13" fill="#00ff00"/>
<rect x="970" y="222" width="3" height="7" fill="#00ff00"/>
<rect x="975" y="204" width="1" height="36" fill="#ff0000"/>
<rect x="974" y="210" width="3" height="23" fill="#ff0000"/>
<rect x="979" y="204" width="1" height="33" fill="#00ff00"/>
<rect x="978" y="210" width="3" height="25" fill="#00ff00"/>
<rect x="983" y="216" width="1" height="43" fill="#00ff00"/>
<rect x="982" y="232" width="3" height="20" fill="#00ff00"/>
<rect x="987" y="242" width="1" height="23" fill="#ff0000"/>
<rect x="986" y="246" width="3" height="6" fill="#ff0000"/>
<rect x="991" y="216" width="1" height="32" fill="#ff0000"/>
<rect x="990" y="222" width="3" height="23" fill="#ff0000"/>
<rect x="995" y="216" width="1" height="7" fill="#ff0000"/>
<rect x="994" y="217" width="3" height="5" fill="#ff0000"/>
<rect x="999" y="214" width="1" height="33" fill="#00ff00"/>
<rect x="998" y="217" width="3" height="19" fill="#00ff00"/>
<rect x="1003" y="232" width="1" height="27" fill="#00ff00"/>
<rect x="1002" y="235" width="3" height="19" fill="#00ff00"/>
<rect x="1007" y="245" width="1" height="20" fill="#ff0000"/>
<rect x="1006" y="248" width="3" height="7" fill="#ff0000"/>
<rect x="1011" y="238" width="1" height="15" fill="#ff0000"/>
<rect x="1010" y="241" width="3" height="8" fill="#ff0000"/>
<rect x="1015" y="228" width="1" height="16" fill="#ff0000"/>
<rect x="1014" y="229" width="3" height="13" fill="#ff0000"/>
<rect x="1019" y="228" width="1" height="4" fill="#00ff00"/>
<rect x="1018" y="228" width="3" height="3" fill="#00ff00"/>
<rect x="1023" y="234" width="1" height="15" fill="#00ff00"/>
<rect x="1022" y="238" width="3" height="3" fill="#00ff00"/>
<rect x="1027" y="216" width="1" height="27" fill="#ff0000"/>
<rect x="1026" y="224" width="3" height="16" fill="#ff0000"/>
<rect x="1031" y="209" width="1" height="18" fill="#ff0000"/>
<rect x="1030" y="218" width="3" height="9" fill="#ff0000"/>
<rect x="1035" y="186" width="1" height="35" fill="#ff0000"/>
<rect x="1034" y="186" width="3" height="33" fill="#ff0000"/>
<rect x="1039" y="173" width="1" height="20" fill="#00ff00"/>
<rect x="1038" y="186" width="3" height="6" fill="#00ff00"/>
<rect x="1043" y="188" width="1" height="8" fill="#00ff00"/>
<rect x="1042" y="190" width="3" height="3" fill="#00ff00"/>
<rect x="1047" y="174" width="1" height="26" fill="#00ff00"/>
<rect x="1046" y="176" width="3" height="23" fill="#00ff00"/>
<rect x="1051" y="191" width="1" height="23" fill="#00ff00"/>
<rect x="1050" y="198" width="3" height="9" fill="#00ff00"/>
<rect x="1055" y="190" width="1" height="18" fill="#ff0000"/>
<rect x="1054" y="196" width="3" height="9" fill="#ff0000"/>
<rect x="1059" y="196" width="1" height="25" fill="#00ff00"/>
<rect x="1058" y="196" width="3" height="25" fill="#00ff00"/>
<rect x="1063" y="206" width="1" height="36" fill="#00ff00"/>
<rect x="1062" y="220" width="3" height="15" fill="#00ff00"/>
<rect x="1067" y="232" width="1" height="10" fill="#00ff00"/>
<rect x="1066" y="234" width="3" height="7" fill="#00ff00"/>
<rect x="1071" y="234" width="1" height="33" fill="#00ff00"/>
<rect x="1070" y="237" width="3" height="25" fill="#00ff00"/>
<rect x="1075" y="236" width="1" height="47" fill="#00ff00"/>
<rect x="1074" y="260" width="3" height="21" fill="#00ff00"/>
<rect x="1079" y="266" width="1" height="35" fill="#00ff00"/>
<rect x="1078" y="280" width="3" height="19" fill="#00ff00"/>
<rect x="1083" y="273" width="1" height="28" fill="#ff0000"/>
<rect x="1082" y="280" width="3" height="19" fill="#ff0000"/>
<rect x="1087" y="258" width="1" height="35" fill="#00ff00"/>
<rect x="1086" y="280" width="3" height="4" fill="#00ff00"/>
<rect x="1091" y="282" width="1" height="5" fill="#00ff00"/>
<rect x="1090" y="283" width="3" height="4" fill="#00ff00"/>
<rect x="1095" y="261" width="1" height="51" fill="#ff0000"/>
<rect x="1094" y="270" width="3" height="21" fill="#ff0000"/>
<rect x="1099" y="254" width="1" height="34" fill="#ff0000"/>
<rect x="1098" y="258" width="3" height="14" fill="#ff0000"/>
<rect x="1103" y="252" width="1" height="19" fill="#00ff00"/>
<rect x="1102" y="258" width="3" height="4" fill="#00ff00"/>
<rect x="1107" y="188" width="1" height="73" fill="#ff0000"/>
<rect x="1106" y="189" width="3" height="72" fill="#ff0000"/>
<rect x="1111" y="177" width="1" height="59" fill="#00ff00"/>
<rect x="1110" y="188" width="3" height="14" fill="#00ff00"/>
<rect x="1115" y="196" width="1" height="11" fill="#ff0000"/>
<rect x="1114" y="198" width="3" height="4" fill="#ff0000"/>
<rect x="1119" y="197" width="1" height="37" fill="#00ff00"/>
<rect x="1118" y="216" width="3" height="13" fill="#00ff00"/>
<rect x="1123" y="184" width="1" height="49" fill="#ff0000"/>
<rect x="1122" y="196" width="3" height="32" fill="#ff0000"/>
<rect x="1127" y="152" width="1" height="59" fill="#ff0000"/>
<rect x="1126" y="152" width="3" height="37" fill="#ff0000"/>
<rect x="1131" y="75" width="1" height="80" fill="#ff0000"/>
<rect x="1130" y="91" width="3" height="64" fill="#ff0000"/>
<rect x="1135" y="78" width="1" height="87" fill="#00ff00"/>
<rect x="1134" y="91" width="3" height="12" fill="#00ff00"/>
<rect x="1139" y="98" width="1" height="15" fill="#ff0000"/>
<rect x="1138" y="105" width="3" height="3" fill="#ff0000"/>
<rect x="1143" y="87" width="1" height="57" fill="#00ff00"/>
<rect x="1142" y="106" width="3" height="5" fill="#00ff00"/>
<rect x="1147" y="104" width="1" height="61" fill="#00ff00"/>
<rect x="1146" y="108" width="3" height="44" fill="#00ff00"/>
<rect x="1151" y="96" width="1" height="56" fill="#ff0000"/>
<rect x="1150" y="102" width="3" height="50" fill="#ff0000"/>
<rect x="1155" y="98" width="1" height="51" fill="#00ff00"/>
<rect x="1154" y="102" width="3" height="47" fill="#00ff00"/>
<rect x="1159" y="118" width="1" height="49" fill="#ff0000"/>
<rect x="1158" y="129" width="3" height="19" fill="#ff0000"/>
<rect x="1163" y="126" width="1" height="24" fill="#00ff00"/>
<rect x="1162" y="128" width="3" height="20" fill="#00ff00"/>
<rect x="1167" y="114" width="1" height="31" fill="#ff0000"/>
<rect x="1166" y="116" width="3" height="29" fill="#ff0000"/>
<rect x="1171" y="116" width="1" height="37" fill="#00ff00"/>
<rect x="1170" y="116" width="3" height="32" fill="#00ff00"/>
<rect x="1175" y="118" width="1" height="37" fill="#ff0000"/>
<rect x="1174" y="123" width="3" height="26" fill="#ff0000"/>
<rect x="1179" y="96" width="1" height="51" fill="#00ff00"/>
<rect x="1178" y="123" width="3" height="24" fill="#00ff00"/>
<rect x="1183" y="116" width="1" height="32" fill="#ff0000"/>
<rect x="1182" y="119" width="3" height="29" fill="#ff0000"/>
<rect x="1187" y="117" width="1" height="13" fill="#00ff00"/>
<rect x="1186" y="119" width="3" height="8" fill="#00ff00"/>
<rect x="1191" y="117" width="1" height="19" fill="#00ff00"/>
<rect x="1190" y="126" width="3" height="5" fill="#00ff00"/>
<rect x="1195" y="125" width="1" height="57" fill="#00ff00"/>
<rect x="1194" y="130" width="3" height="50" fill="#00ff00"/>
<rect x="1199" y="150" width="1" height="29" fill="#ff0000"/>
<rect x="1198" y="159" width="3" height="20" fill="#ff0000"/>
<rect x="1203" y="150" width="1" height="33" fill="#00ff00"/>
<rect x="1202" y="159" width="3" height="20" fill="#00ff00"/>
<rect x="1207" y="172" width="1" height="21" fill="#00ff00"/>
<rect x="1206" y="178" width="3" height="5" fill="#00ff00"/>
<rect x="1211" y="180" width="1" height="7" fill="#00ff00"/>
<rect x="1210" y="180" width="3" height="6" fill="#00ff00"/>
<rect x="1215" y="169" width="1" height="17" fill="#ff0000"/>
<rect x="1214" y="174" width="3" height="9" fill="#ff0000"/>
<rect x="1219" y="164" width="1" height="23" fill="#00ff00"/>
<rect x="1218" y="174" width="3" height="11" fill="#00ff00"/>
<rect x="1223" y="154" width="1" height="37" fill="#ff0000"/>
<rect x="1222" y="159" width="3" height="26" fill="#ff0000"/>
<rect x="1227" y="145" width="1" height="22" fill="#ff0000"/>
<rect x="1226" y="148" width="3" height="14" fill="#ff0000"/>
<rect x="1231" y="141" width="1" height="22" fill="#00ff00"/>
<rect x="1230" y="149" width="3" height="6" fill="#00ff00"/>
<rect x="1235" y="152" width="1" height="5" fill="#00ff00"/>
<rect x="1234" y="153" width="3" height="2" fill="#00ff00"/>
<rect x="1239" y="144" width="1" height="16" fill="#ff0000"/>
<rect x="1238" y="152" width="3" height="5" fill="#ff0000"/>
<rect x="1243" y="126" width="1" height="29" fill="#ff0000"/>
<rect x="1242" y="131" width="3" height="24" fill="#ff0000"/>
<rect x="1247" y="128" width="1" height="17" fill="#00ff00"/>
<rect x="1246" y="131" width="3" height="2" fill="#00ff00"/>
<rect x="1251" y="130" width="1" height="25" fill="#00ff00"/>
<rect x="1250" y="134" width="3" height="17" fill="#00ff00"/>
<rect x="1255" y="136" width="1" height="17" fill="#ff0000"/>
<rect x="1254" y="138" width="3" height="13" fill="#ff0000"/>
<rect x="1259" y="137" width="1" height="6" fill="#00ff00"/>
<rect x="1258" y="138" width="3" height="4" fill="#00ff00"/>
<rect x="1263" y="140" width="1" height="15" fill="#ff0000"/>
<rect x="1262" y="140" width="3" height="9" fill="#ff0000"/>
<rect x="1267" y="139" width="1" height="8" fill="#ff0000"/>
<rect x="1266" y="140" width="3" height="2" fill="#ff0000"/>
</g>
<g shape-rendering="crispEdges">
<polyline points="3.5,480.0 7.5,481.2 11.5,481.2 15.5,480.8 19.5,480.0 23.5,478.3 27.5,477.4 31.5,477.2 35.5,477.0 39.5,476.0 43.5,476.3 47.5,476.2 51.5,476.2 55.5,474.4 59.5,475.3 63.5,469.0 67.5,466.0 71.5,457.3 75.5,451.0 79.5,445.0 83.5,438.0 87.5,431.5 91.5,425.2 95.5,418.0 99.5,412.0 103.5,406.0 107.5,400.0 111.5,394.0 115.5,388.0 119.5,382.0 123.5,376.1 127.5,370.1 131.5,363.9 135.5,357.4 139.5,350.0 143.5,343.6 147.5,337.5 151.5,331.6 155.5,325.3 159.5,318.4 163.5,312.7 167.5,306.4 171.5,300.9 175.5,295.7 179.5,289.5 183.5,289.1 187.5,289.1 191.5,289.1 195.5,291.5 199.5,293.5 203.5,295.5 207.5,297.6 211.5,299.6 215.5,302.0 219.5,302.9 223.5,304.1 227.5,305.3 231.5,306.8 235.5,307.6 239.5,308.6 243.5,309.6 247.5,310.7 251.5,312.4 255.5,312.8 259.5,314.0 263.5,316.3 267.5,318.0 271.5,319.7 275.5,321.3 279.5,323.0 283.5,324.7 287.5,326.3 291.5,328.0 295.5,329.6 299.5,331.1 303.5,332.3 307.5,333.1 311.5,333.8 315.5,334.4 319.5,333.6 323.5,332.9 327.5,332.3 331.5,332.3 335.5,331.3 339.5,329.1 343.5,325.7 347.5,319.7 351.5,321.8 355.5,307.1 359.5,301.2 363.5,293.7 367.5,290.6 371.5,286.6 375.5,282.0 379.5,277.9 383.5,273.3 387.5,268.6 391.5,264.0 395.5,258.9 399.5,253.3 403.5,247.7 407.5,241.6 411.5,235.2 415.5,228.2 419.5,221.3 423.5,211.5 427.5,203.3 431.5,194.1 435.5,185.1 439.5,176.7 443.5,168.2 447.5,157.6 451.5,150.0 455.5,144.5 459.5,134.5 463.5,132.0 467.5,129.5 471.5,127.7 475.5,125.8 479.5,125.0 483.5,125.6 487.5,127.0 491.5,128.8 495.5,130.6 499.5,128.6 503.5,126.8 507.5,125.3 511.5,123.9 515.5,122.4 519.5,120.8 523.5,119.0 527.5,117.4 531.5,116.3 535.5,115.6 539.5,115.1 543.5,115.9 547.5,116.7 551.5,117.4 555.5,118.3 559.5,119.6 563.5,121.3 567.5,123.4 571.5,123.8 575.5,124.3 579.5,124.9 583.5,126.5 587.5,126.6 591.5,128.1 595.5,129.0 599.5,129.0 603.5,129.0 607.5,127.4 611.5,126.2 615.5,126.2 619.5,126.7 623.5,127.5 627.5,128.1 631.5,129.7 635.5,131.3 639.5,132.6 643.5,134.4 647.5,136.1 651.5,137.6 655.5,141.8 659.5,145.0 663.5,148.0 667.5,151.7 671.5,157.0 675.5,161.3 679.5,163.8 683.5,167.5 687.5,172.4 691.5,175.5 695.5,179.6 699.5,182.7 703.5,184.5 707.5,186.6 711.5,187.4 715.5,189.2 719.5,190.7 723.5,192.3 727.5,193.9 731.5,195.2 735.5,196.2 739.5,196.9 743.5,198.6 747.5,200.0 751.5,201.2 755.5,202.4 759.5,202.3 763.5,202.4 767.5,202.5 771.5,202.4 775.5,203.0 779.5,202.7 783.5,202.3 787.5,201.9 791.5,201.5 795.5,201.0 799.5,201.0 803.5,201.0 807.5,201.2 811.5,201.8 815.5,202.0 819.5,202.2 823.5,202.6 827.5,203.0 831.5,203.6 835.5,204.6 839.5,206.0 843.5,206.0 847.5,208.9 851.5,210.4 855.5,212.0 859.5,213.7 863.5,215.0 867.5,217.3 871.5,219.2 875.5,221.2 879.5,223.9 883.5,226.7 887.5,230.3 891.5,233.9 895.5,238.6 899.5,241.5 903.5,245.4 907.5,249.4 911.5,252.5 915.5,256.4 919.5,260.0 923.5,264.0 927.5,268.6 931.5,271.8 935.5,274.5 939.5,276.0 943.5,277.7 947.5,279.1 951.5,280.8 955.5,281.8 959.5,283.6 963.5,282.7 967.5,282.1 971.5,281.5 975.5,281.2 979.5,280.9 983.5,280.2 987.5,279.1 991.5,277.7 995.5,277.2 999.5,276.4 1003.5,275.7 1007.5,274.8 1011.5,272.7 1015.5,270.0 1019.5,267.5 1023.5,264.6 1027.5,262.0 1031.5,258.0 1035.5,253.5 1039.5,249.4 1043.5,244.8 1047.5,239.3 1051.5,235.3 1055.5,230.6 1059.5,229.0 1063.5,227.3 1067.5,226.0 1071.5,226.7 1075.5,227.8 1079.5,229.8 1083.5,231.6 1087.5,233.8 1091.5,236.2 1095.5,236.7 1099.5,237.4 1103.5,238.0 1107.5,236.6 1111.5,235.2 1115.5,234.8 1119.5,233.1 1123.5,231.6 1127.5,228.7 1131.5,224.6 1135.5,220.0 1139.5,216.6 1143.5,213.2 1147.5,209.7 1151.5,206.1 1155.5,203.6 1159.5,201.9 1163.5,200.0 1167.5,198.0 1171.5,195.9 1175.5,193.7 1179.5,190.9 1183.5,187.8 1187.5,183.6 1191.5,179.5 1195.5,175.0 1199.5,171.6 1203.5,167.9 1207.5,164.8 1211.5,161.4 1215.5,157.6 1219.5,156.0 1223.5,152.3 1227.5,149.9 1231.5,149.2 1235.5,146.9 1239.5,145.0 1243.5,142.2 1247.5,142.2 1251.5,144.2 1255.5,145.0 1259.5,146.0 1263.5,147.0 1267.5,147.4" fill="none" stroke="#0000c8" stroke-width="1"/>
<polyline points="3.5,485.0 7.5,485.0 11.5,485.0 15.5,484.1 19.5,482.4 23.5,480.4 27.5,479.0 31.5,478.2 35.5,477.4 39.5,475.8 43.5,474.4 47.5,472.5 51.5,470.0 55.5,465.5 59.5,463.8 63.5,452.4 67.5,440.4 71.5,424.8 75.5,412.4 79.5,396.6 83.5,391.0 87.5,376.9 91.5,365.2 95.5,350.2 99.5,341.3 103.5,330.0 107.5,317.9 111.5,306.6 115.5,294.7 119.5,295.7 123.5,291.4 127.5,290.2 131.5,290.0 135.5,289.7 139.5,289.7 143.5,291.4 147.5,287.4 151.5,292.0 155.5,289.2 159.5,289.5 163.5,287.5 167.5,288.0 171.5,286.7 175.5,286.5 179.5,286.2 183.5,286.0 187.5,287.7 191.5,289.1 195.5,292.8 199.5,297.1 203.5,301.0 207.5,305.1 211.5,308.9 215.5,313.4 219.5,316.5 223.5,320.3 227.5,324.2 231.5,329.0 235.5,331.0 239.5,333.6 243.5,335.6 247.5,335.6 251.5,335.5 255.5,333.5 259.5,331.9 263.5,332.3 267.5,332.3 271.5,332.3 275.5,332.3 279.5,332.3 283.5,332.3 287.5,332.3 291.5,332.3 295.5,332.3 299.5,332.3 303.5,332.5 307.5,332.8 311.5,333.1 315.5,333.4 319.5,332.5 323.5,331.9 327.5,331.8 331.5,331.7 335.5,331.3 339.5,326.8 343.5,320.1 347.5,312.5 351.5,309.5 355.5,292.0 359.5,282.5 363.5,270.5 367.5,259.0 371.5,240.0 375.5,227.7 379.5,214.8 383.5,205.6 387.5,193.7 391.5,187.5 395.5,180.7 399.5,170.0 403.5,169.2 407.5,166.1 411.5,164.4 415.5,160.3 419.5,156.1 423.5,151.8 427.5,147.1 431.5,141.4 435.5,137.7 439.5,127.0 443.5,120.0 447.5,111.7 451.5,105.4 455.5,96.5 459.5,94.0 463.5,91.0 467.5,89.3 471.5,89.3 475.5,90.8 479.5,95.3 483.5,101.1 487.5,108.4 491.5,115.2 495.5,120.5 499.5,128.2 503.5,134.0 507.5,136.8 511.5,144.0 515.5,144.7 519.5,144.9 523.5,144.7 527.5,143.3 531.5,143.0 535.5,140.7 539.5,135.0 543.5,129.7 547.5,122.5 551.5,117.0 555.5,113.8 559.5,111.5 563.5,111.0 567.5,110.7 571.5,106.8 575.5,104.4 579.5,104.4 583.5,107.6 587.5,111.8 591.5,114.7 595.5,120.1 599.5,123.6 603.5,126.8 607.5,130.0 611.5,133.2 615.5,136.3 619.5,140.0 623.5,143.6 627.5,148.6 631.5,153.8 635.5,157.3 639.5,160.1 643.5,160.7 647.5,161.3 651.5,166.4 655.5,167.9 659.5,169.8 663.5,173.0 667.5,176.7 671.5,181.9 675.5,186.0 679.5,192.7 683.5,198.0 687.5,201.0 691.5,204.0 695.5,205.8 699.5,208.4 703.5,212.6 707.5,214.2 711.5,215.0 715.5,216.6 719.5,216.6 723.5,214.1 727.5,211.0 731.5,206.4 735.5,204.7 739.5,202.4 743.5,201.1 747.5,200.2 751.5,200.8 755.5,199.3 759.5,196.7 763.5,194.0 767.5,191.4 771.5,190.5 775.5,190.5 779.5,191.0 783.5,191.8 787.5,191.8 791.5,191.8 795.5,192.9 799.5,194.4 803.5,196.2 807.5,198.4 811.5,201.5 815.5,205.0 819.5,211.3 823.5,212.0 827.5,216.1 831.5,216.0 835.5,218.9 839.5,221.2 843.5,222.5 847.5,224.7 851.5,225.5 855.5,227.4 859.5,229.8 863.5,232.1 867.5,235.0 871.5,234.4 875.5,239.4 879.5,240.0 883.5,245.7 887.5,249.4 891.5,254.0 895.5,259.1 899.5,264.2 903.5,270.2 907.5,276.8 911.5,282.0 915.5,289.5 919.5,296.4 923.5,301.4 927.5,307.0 931.5,311.1 935.5,314.9 939.5,315.4 943.5,316.0 947.5,316.8 951.5,312.9 955.5,307.5 959.5,301.4 963.5,299.0 967.5,288.7 971.5,280.0 975.5,271.4 979.5,262.2 983.5,255.5 987.5,251.1 991.5,246.0 995.5,240.2 999.5,236.9 1003.5,234.5 1007.5,233.7 1011.5,233.0 1015.5,233.0 1019.5,233.0 1023.5,233.8 1027.5,234.5 1031.5,233.2 1035.5,232.1 1039.5,228.1 1043.5,225.0 1047.5,222.7 1051.5,221.0 1055.5,218.7 1059.5,215.6 1063.5,214.3 1067.5,215.2 1071.5,216.8 1075.5,219.2 1079.5,222.8 1083.5,226.0 1087.5,233.9 1091.5,242.6 1095.5,246.5 1099.5,251.3 1103.5,253.5 1107.5,253.6 1111.5,253.2 1115.5,252.4 1119.5,251.6 1123.5,247.4 1127.5,239.4 1131.5,228.5 1135.5,212.0 1139.5,200.6 1143.5,191.6 1147.5,180.6 1151.5,169.8 1155.5,159.7 1159.5,148.5 1163.5,145.7 1167.5,139.3 1171.5,135.1 1175.5,131.0 1179.5,126.0 1183.5,125.8 1187.5,125.8 1191.5,128.3 1195.5,132.0 1199.5,137.2 1203.5,140.1 1207.5,144.0 1211.5,146.1 1215.5,149.1 1219.5,152.5 1223.5,155.7 1227.5,156.9 1231.5,157.8 1235.5,159.6 1239.5,161.1 1243.5,162.4 1247.5,162.4 1251.5,160.0 1255.5,158.0 1259.5,156.3 1263.5,154.0 1267.5,150.9" fill="none" stroke="#ff0000" stroke-width="1"/>
<polyline points="3.5,491.9 7.5,491.6 11.5,491.2 15.5,484.7 19.5,476.0 23.5,471.7 27.5,466.0 31.5,462.5 35.5,459.1 39.5,457.7 43.5,461.6 47.5,461.5 51.5,461.4 55.5,460.6 59.5,460.8 63.5,434.0 67.5,391.5 71.5,358.2 75.5,323.0 79.5,300.6 83.5,295.2 87.5,290.0 91.5,284.7 95.5,280.0 99.5,283.0 103.5,286.4 107.5,292.0 111.5,295.4 115.5,299.3 119.5,298.0 123.5,295.4 127.5,291.5 131.5,289.0 135.5,288.0 139.5,288.8 143.5,289.5 147.5,289.5 151.5,288.0 155.5,285.3 159.5,282.3 163.5,282.8 167.5,283.0 171.5,283.5 175.5,284.1 179.5,284.8 183.5,285.4 187.5,287.9 191.5,293.9 195.5,304.0 199.5,320.8 203.5,329.3 207.5,339.0 211.5,341.3 215.5,339.1 219.5,336.4 223.5,336.4 227.5,336.4 231.5,338.3 235.5,339.7 239.5,338.0 243.5,337.0 247.5,332.3 251.5,327.6 255.5,325.0 259.5,324.1 263.5,324.3 267.5,328.6 271.5,330.8 275.5,333.0 279.5,336.2 283.5,335.3 287.5,334.5 291.5,333.8 295.5,333.2 299.5,332.3 303.5,331.9 307.5,331.9 311.5,331.9 315.5,334.0 319.5,334.2 323.5,334.4 327.5,331.6 331.5,328.9 335.5,326.5 339.5,325.4 343.5,301.5 347.5,286.8 351.5,252.4 355.5,225.5 359.5,198.2 363.5,180.0 367.5,152.3 371.5,152.4 375.5,144.7 379.5,156.8 383.5,166.3 387.5,168.3 391.5,177.9 395.5,186.8 399.5,177.9 403.5,175.1 407.5,171.2 411.5,163.6 415.5,150.0 419.5,142.4 423.5,117.9 427.5,102.5 431.5,87.9 435.5,83.7 439.5,78.4 443.5,77.1 447.5,75.3 451.5,73.3 455.5,74.0 459.5,78.7 463.5,83.2 467.5,96.5 471.5,109.4 475.5,119.2 479.5,124.2 483.5,138.4 487.5,146.5 491.5,155.7 495.5,164.2 499.5,171.5 503.5,167.6 507.5,159.9 511.5,150.2 515.5,140.0 519.5,135.0 523.5,130.8 527.5,121.2 531.5,115.5 535.5,109.4 539.5,104.9 543.5,101.4 547.5,98.1 551.5,95.4 555.5,96.1 559.5,99.0 563.5,106.0 567.5,111.5 571.5,109.9 575.5,107.6 579.5,109.7 583.5,112.8 587.5,121.8 591.5,136.8 595.5,147.8 599.5,150.4 603.5,150.8 607.5,150.8 611.5,150.2 615.5,152.8 619.5,155.0 623.5,158.5 627.5,161.3 631.5,164.0 635.5,166.0 639.5,169.8 643.5,170.4 647.5,172.4 651.5,175.2 655.5,177.5 659.5,183.0 663.5,187.8 667.5,196.3 671.5,206.0 675.5,215.4 679.5,223.8 683.5,233.0 687.5,230.6 691.5,226.5 695.5,220.3 699.5,211.4 703.5,211.6 707.5,212.7 711.5,209.0 715.5,207.5 719.5,205.5 723.5,200.7 727.5,195.2 731.5,190.5 735.5,191.1 739.5,193.0 743.5,195.3 747.5,199.2 751.5,199.9 755.5,200.8 759.5,194.7 763.5,189.2 767.5,184.5 771.5,182.7 775.5,182.3 779.5,186.5 783.5,190.3 787.5,194.9 791.5,199.5 795.5,205.4 799.5,213.2 803.5,215.8 807.5,219.0 811.5,226.3 815.5,224.7 819.5,226.3 823.5,228.0 827.5,225.2 831.5,224.0 835.5,219.2 839.5,222.2 843.5,223.7 847.5,225.4 851.5,227.5 855.5,232.8 859.5,237.9 863.5,242.0 867.5,250.2 871.5,257.8 875.5,259.0 879.5,258.5 883.5,260.4 887.5,265.7 891.5,271.8 895.5,280.8 899.5,290.5 903.5,302.5 907.5,309.5 911.5,316.6 915.5,325.8 919.5,333.4 923.5,335.6 927.5,338.0 931.5,334.2 935.5,327.5 939.5,313.0 943.5,301.4 947.5,289.6 951.5,273.7 955.5,269.1 959.5,261.4 963.5,253.2 967.5,243.2 971.5,234.1 975.5,227.5 979.5,224.4 983.5,225.5 987.5,232.6 991.5,232.6 995.5,233.0 999.5,234.2 1003.5,233.7 1007.5,236.3 1011.5,238.6 1015.5,240.8 1019.5,239.5 1023.5,238.5 1027.5,232.8 1031.5,226.1 1035.5,219.5 1039.5,210.5 1043.5,203.3 1047.5,196.6 1051.5,194.2 1055.5,196.6 1059.5,202.7 1063.5,209.9 1067.5,222.7 1071.5,233.7 1075.5,250.0 1079.5,258.9 1083.5,267.5 1087.5,276.4 1091.5,285.0 1095.5,282.7 1099.5,280.4 1103.5,270.3 1107.5,256.9 1111.5,240.8 1115.5,227.0 1119.5,215.2 1123.5,203.4 1127.5,200.0 1131.5,175.2 1135.5,153.6 1139.5,134.5 1143.5,113.8 1147.5,113.3 1151.5,115.4 1155.5,121.2 1159.5,127.0 1163.5,130.7 1167.5,129.8 1171.5,131.9 1175.5,132.5 1179.5,135.2 1183.5,129.8 1187.5,129.0 1191.5,128.1 1195.5,134.9 1199.5,143.3 1203.5,153.7 1207.5,165.4 1211.5,174.3 1215.5,175.4 1219.5,179.6 1223.5,175.4 1227.5,170.7 1231.5,165.7 1235.5,159.2 1239.5,154.5 1243.5,148.1 1247.5,145.4 1251.5,143.4 1255.5,140.3 1259.5,137.9 1263.5,140.3 1267.5,141.0" fill="none" stroke="#ffa500" stroke-width="1"/>
</g>
<g shape-rendering="crispEdges">
<rect x="3" y="40" width="1592" height="2" fill="#ff0000"/>
<rect x="3" y="132" width="1592" height="2" fill="#ff0000"/>
<rect x="3" y="222" width="1592" height="2" fill="#00ff00"/>
<rect x="3" y="329" width="1592" height="2" fill="#0000ff"/>
<rect x="3" y="438" width="1592" height="2" fill="#0000ff"/>
</g>
</g>
<polygon points="6,30 13,30 9.5,34" fill="#000"/>
<text x="18.3" y="35" font-size="10" fill="#000" text-anchor="start" textLength="65.2" lengthAdjust="spacingAndGlyphs">USDCNH,Daily</text>
<text x="90" y="35" font-size="10" fill="#000" text-anchor="start" textLength="32.5" lengthAdjust="spacingAndGlyphs">7.09243</text>
<text x="126" y="35" font-size="10" fill="#000" text-anchor="start" textLength="32.5" lengthAdjust="spacingAndGlyphs">7.09394</text>
<text x="162" y="35" font-size="10" fill="#000" text-anchor="start" textLength="32.5" lengthAdjust="spacingAndGlyphs">7.08697</text>
<text x="198" y="35" font-size="10" fill="#000" text-anchor="start" textLength="32.5" lengthAdjust="spacingAndGlyphs">7.09256</text>
<rect x="1597" y="135" width="41" height="11" fill="#000000"/>
<text x="1601" y="144" font-size="10" fill="#ffffff" text-anchor="start" textLength="33" lengthAdjust="spacingAndGlyphs">7.09256</text>
<rect x="1597" y="35" width="41" height="11" fill="#ff0000"/>
<text x="1601" y="44" font-size="10" fill="#ffffff" text-anchor="start" textLength="33" lengthAdjust="spacingAndGlyphs">7.20193</text>
<rect x="1597" y="127" width="41" height="11" fill="#ff0000"/>
<text x="1601" y="136" font-size="10" fill="#ffffff" text-anchor="start" textLength="33" lengthAdjust="spacingAndGlyphs">7.10011</text>
<rect x="1597" y="217" width="41" height="11" fill="#00ff00"/>
<text x="1601" y="226" font-size="10" fill="#ffffff" text-anchor="start" textLength="33" lengthAdjust="spacingAndGlyphs">7.00029</text>
<rect x="1597" y="324" width="41" height="11" fill="#0000ff"/>
<text x="1601" y="333" font-size="10" fill="#ffffff" text-anchor="start" textLength="33" lengthAdjust="spacingAndGlyphs">6.88250</text>
<rect x="1597" y="433" width="41" height="11" fill="#0000ff"/>
<text x="1601" y="442" font-size="10" fill="#ffffff" text-anchor="start" textLength="33" lengthAdjust="spacingAndGlyphs">6.76171</text>
<g clip-path="url(#cr)">
<g shape-rendering="crispEdges">
<line x1="4" y1="559.5" x2="1595" y2="559.5" stroke="#c0c0c0" stroke-width="1" stroke-dasharray="3,3"/>
<line x1="4" y1="595.5" x2="1595" y2="595.5" stroke="#c0c0c0" stroke-width="1" stroke-dasharray="3,3"/>
</g>
<polyline points="3.5,581.1 7.5,581.7 11.5,578.7 15.5,574.4 19.5,573.1 23.5,567.1 27.5,573.2 31.5,572.6 35.5,571.7 39.5,571.3 43.5,577.3 47.5,571.3 51.5,574.7 55.5,574.0 59.5,574.2 63.5,549.4 67.5,552.2 71.5,551.9 75.5,551.1 79.5,549.3 83.5,549.0 87.5,550.7 91.5,552.1 95.5,552.8 99.5,554.5 103.5,558.4 107.5,559.3 111.5,561.4 115.5,559.7 119.5,557.1 123.5,560.5 127.5,559.3 131.5,559.8 135.5,562.0 139.5,561.7 143.5,561.3 147.5,564.0 151.5,559.7 155.5,559.6 159.5,561.0 163.5,568.5 167.5,566.3 171.5,566.2 175.5,565.1 179.5,566.2 183.5,566.2 187.5,578.5 191.5,579.7 195.5,592.1 199.5,586.9 203.5,588.3 207.5,583.3 211.5,583.3 215.5,582.3 219.5,583.9 223.5,585.4 227.5,585.7 231.5,587.8 235.5,577.9 239.5,578.5 243.5,581.7 247.5,573.8 251.5,575.0 255.5,578.4 259.5,575.6 263.5,582.4 267.5,582.4 271.5,578.7 275.5,579.8 279.5,581.1 283.5,578.9 287.5,581.1 291.5,577.6 295.5,577.6 299.5,578.1 303.5,577.8 307.5,576.2 311.5,582.6 315.5,583.3 319.5,577.0 323.5,577.5 327.5,572.3 331.5,573.5 335.5,573.2 339.5,566.8 343.5,552.1 347.5,551.0 351.5,542.4 355.5,553.6 359.5,551.3 363.5,556.4 367.5,553.7 371.5,555.0 375.5,554.6 379.5,571.4 383.5,567.2 387.5,568.0 391.5,568.0 395.5,568.6 399.5,566.2 403.5,565.1 407.5,566.4 411.5,563.1 415.5,559.0 419.5,558.3 423.5,555.0 427.5,556.7 431.5,556.3 435.5,561.8 439.5,560.1 443.5,559.7 447.5,557.1 451.5,559.1 455.5,567.6 459.5,569.1 463.5,574.7 467.5,576.5 471.5,573.7 475.5,575.3 479.5,574.7 483.5,583.8 487.5,588.7 491.5,586.0 495.5,581.8 499.5,577.4 503.5,578.9 507.5,575.3 511.5,577.6 515.5,572.4 519.5,573.2 523.5,572.7 527.5,569.6 531.5,570.5 535.5,569.2 539.5,567.2 543.5,568.6 547.5,567.4 551.5,568.4 555.5,572.8 559.5,577.2 563.5,578.6 567.5,573.0 571.5,567.9 575.5,571.9 579.5,580.9 583.5,584.2 587.5,585.2 591.5,586.5 595.5,582.6 599.5,579.2 603.5,582.4 607.5,583.3 611.5,584.0 615.5,584.7 619.5,583.5 623.5,585.9 627.5,584.4 631.5,586.9 635.5,588.4 639.5,583.4 643.5,583.6 647.5,586.5 651.5,588.6 655.5,590.3 659.5,588.4 663.5,591.7 667.5,596.8 671.5,597.4 675.5,601.0 679.5,592.9 683.5,593.8 687.5,586.2 691.5,586.0 695.5,581.3 699.5,580.6 703.5,587.1 707.5,585.7 711.5,579.1 715.5,577.9 719.5,575.8 723.5,577.0 727.5,573.2 731.5,574.7 735.5,579.4 739.5,581.6 743.5,581.9 747.5,577.1 751.5,577.8 755.5,577.0 759.5,573.0 763.5,564.4 767.5,574.1 771.5,575.6 775.5,578.7 779.5,581.1 783.5,576.8 787.5,579.6 791.5,576.9 795.5,589.6 799.5,580.4 803.5,582.7 807.5,584.9 811.5,582.7 815.5,581.3 819.5,582.0 823.5,582.9 827.5,581.7 831.5,579.4 835.5,580.3 839.5,581.1 843.5,584.4 847.5,583.3 851.5,584.1 855.5,587.9 859.5,591.0 863.5,592.1 867.5,591.1 871.5,589.8 875.5,589.8 879.5,585.9 883.5,593.3 887.5,592.8 891.5,596.4 895.5,599.2 899.5,599.7 903.5,603.3 907.5,603.5 911.5,600.0 915.5,602.6 919.5,604.1 923.5,602.3 927.5,599.4 931.5,584.2 935.5,583.0 939.5,574.5 943.5,576.3 947.5,576.2 951.5,563.9 955.5,568.6 959.5,569.9 963.5,563.4 967.5,563.4 971.5,565.2 975.5,561.7 979.5,569.5 983.5,574.3 987.5,573.1 991.5,568.1 995.5,567.0 999.5,572.3 1003.5,576.9 1007.5,575.7 1011.5,574.0 1015.5,571.2 1019.5,571.6 1023.5,574.4 1027.5,570.5 1031.5,569.0 1035.5,562.6 1039.5,564.1 1043.5,564.5 1047.5,566.7 1051.5,569.4 1055.5,567.2 1059.5,574.9 1063.5,579.2 1067.5,580.7 1071.5,585.8 1075.5,589.8 1079.5,592.9 1083.5,587.2 1087.5,587.7 1091.5,588.3 1095.5,583.0 1099.5,579.5 1103.5,580.2 1107.5,564.4 1111.5,567.6 1115.5,567.2 1119.5,574.5 1123.5,568.8 1127.5,562.6 1131.5,556.4 1135.5,559.0 1139.5,559.6 1143.5,560.9 1147.5,569.6 1151.5,563.8 1155.5,571.6 1159.5,569.4 1163.5,572.3 1167.5,568.5 1171.5,573.4 1175.5,570.5 1179.5,573.9 1183.5,570.7 1187.5,571.8 1191.5,572.5 1195.5,579.8 1199.5,576.9 1203.5,579.5 1207.5,580.1 1211.5,580.5 1215.5,578.7 1219.5,580.2 1223.5,575.8 1227.5,573.9 1231.5,575.1 1235.5,575.2 1239.5,574.7 1243.5,570.7 1247.5,570.9 1251.5,575.3 1255.5,572.9 1259.5,573.5 1263.5,573.4 1267.5,573.3" fill="none" stroke="#1e90ff" stroke-width="1" shape-rendering="crispEdges"/>
</g>
<text x="7.4" y="544" font-size="10" fill="#000" text-anchor="start" textLength="67.6" lengthAdjust="spacingAndGlyphs">RSI(14) 54.2120</text>
<rect x="1596" y="532" width="2" height="1" fill="#000"/>
<rect x="1596" y="559" width="2" height="1" fill="#000"/>
<rect x="1596" y="595" width="2" height="1" fill="#000"/>
<rect x="1596" y="622" width="2" height="1" fill="#000"/>
<text x="1599" y="542.5" font-size="10" fill="#000" text-anchor="start">100</text>
<text x="1599" y="563.5" font-size="10" fill="#000" text-anchor="start">70</text>
<text x="1599" y="599.0" font-size="10" fill="#000" text-anchor="start">30</text>
<text x="1599" y="620.0" font-size="10" fill="#000" text-anchor="start">0</text>
<g clip-path="url(#cd)">
<g shape-rendering="crispEdges">
<rect x="3" y="682" width="1" height="5" fill="#c0c0c0"/>
<rect x="7" y="682" width="1" height="5" fill="#c0c0c0"/>
<rect x="11" y="682" width="1" height="5" fill="#c0c0c0"/>
<rect x="15" y="682" width="1" height="3" fill="#c0c0c0"/>
<rect x="19" y="682" width="1" height="2" fill="#c0c0c0"/>
<rect x="23" y="680" width="1" height="3" fill="#c0c0c0"/>
<rect x="27" y="679" width="1" height="4" fill="#c0c0c0"/>
<rect x="31" y="679" width="1" height="4" fill="#c0c0c0"/>
<rect x="35" y="678" width="1" height="5" fill="#c0c0c0"/>
<rect x="39" y="677" width="1" height="6" fill="#c0c0c0"/>
<rect x="43" y="678" width="1" height="5" fill="#c0c0c0"/>
<rect x="47" y="677" width="1" height="6" fill="#c0c0c0"/>
<rect x="51" y="677" width="1" height="6" fill="#c0c0c0"/>
<rect x="55" y="677" width="1" height="6" fill="#c0c0c0"/>
<rect x="59" y="677" width="1" height="6" fill="#c0c0c0"/>
<rect x="63" y="665" width="1" height="18" fill="#c0c0c0"/>
<rect x="67" y="657" width="1" height="26" fill="#c0c0c0"/>
<rect x="71" y="650" width="1" height="33" fill="#c0c0c0"/>
<rect x="75" y="645" width="1" height="38" fill="#c0c0c0"/>
<rect x="79" y="639" width="1" height="44" fill="#c0c0c0"/>
<rect x="83" y="635" width="1" height="48" fill="#c0c0c0"/>
<rect x="87" y="632" width="1" height="51" fill="#c0c0c0"/>
<rect x="91" y="631" width="1" height="52" fill="#c0c0c0"/>
<rect x="95" y="631" width="1" height="52" fill="#c0c0c0"/>
<rect x="99" y="632" width="1" height="51" fill="#c0c0c0"/>
<rect x="103" y="634" width="1" height="49" fill="#c0c0c0"/>
<rect x="107" y="636" width="1" height="47" fill="#c0c0c0"/>
<rect x="111" y="639" width="1" height="44" fill="#c0c0c0"/>
<rect x="115" y="641" width="1" height="42" fill="#c0c0c0"/>
<rect x="119" y="642" width="1" height="41" fill="#c0c0c0"/>
<rect x="123" y="644" width="1" height="39" fill="#c0c0c0"/>
<rect x="127" y="645" width="1" height="38" fill="#c0c0c0"/>
<rect x="131" y="647" width="1" height="36" fill="#c0c0c0"/>
<rect x="135" y="649" width="1" height="34" fill="#c0c0c0"/>
<rect x="139" y="650" width="1" height="33" fill="#c0c0c0"/>
<rect x="143" y="652" width="1" height="31" fill="#c0c0c0"/>
<rect x="147" y="654" width="1" height="29" fill="#c0c0c0"/>
<rect x="151" y="655" width="1" height="28" fill="#c0c0c0"/>
<rect x="155" y="656" width="1" height="27" fill="#c0c0c0"/>
<rect x="159" y="657" width="1" height="26" fill="#c0c0c0"/>
<rect x="163" y="659" width="1" height="24" fill="#c0c0c0"/>
<rect x="167" y="660" width="1" height="23" fill="#c0c0c0"/>
<rect x="171" y="662" width="1" height="21" fill="#c0c0c0"/>
<rect x="175" y="663" width="1" height="20" fill="#c0c0c0"/>
<rect x="179" y="664" width="1" height="19" fill="#c0c0c0"/>
<rect x="183" y="665" width="1" height="18" fill="#c0c0c0"/>
<rect x="187" y="668" width="1" height="15" fill="#c0c0c0"/>
<rect x="191" y="671" width="1" height="12" fill="#c0c0c0"/>
<rect x="195" y="677" width="1" height="6" fill="#c0c0c0"/>
<rect x="199" y="680" width="1" height="3" fill="#c0c0c0"/>
<rect x="203" y="682" width="1" height="2" fill="#c0c0c0"/>
<rect x="207" y="682" width="1" height="4" fill="#c0c0c0"/>
<rect x="211" y="682" width="1" height="5" fill="#c0c0c0"/>
<rect x="215" y="682" width="1" height="5" fill="#c0c0c0"/>
<rect x="219" y="682" width="1" height="6" fill="#c0c0c0"/>
<rect x="223" y="682" width="1" height="7" fill="#c0c0c0"/>
<rect x="227" y="682" width="1" height="8" fill="#c0c0c0"/>
<rect x="231" y="682" width="1" height="9" fill="#c0c0c0"/>
<rect x="235" y="682" width="1" height="8" fill="#c0c0c0"/>
<rect x="239" y="682" width="1" height="7" fill="#c0c0c0"/>
<rect x="243" y="682" width="1" height="7" fill="#c0c0c0"/>
<rect x="247" y="682" width="1" height="6" fill="#c0c0c0"/>
<rect x="251" y="682" width="1" height="5" fill="#c0c0c0"/>
<rect x="255" y="682" width="1" height="4" fill="#c0c0c0"/>
<rect x="259" y="682" width="1" height="4" fill="#c0c0c0"/>
<rect x="263" y="682" width="1" height="5" fill="#c0c0c0"/>
<rect x="267" y="682" width="1" height="5" fill="#c0c0c0"/>
<rect x="271" y="682" width="1" height="5" fill="#c0c0c0"/>
<rect x="275" y="682" width="1" height="5" fill="#c0c0c0"/>
<rect x="279" y="682" width="1" height="5" fill="#c0c0c0"/>
<rect x="283" y="682" width="1" height="5" fill="#c0c0c0"/>
<rect x="287" y="682" width="1" height="5" fill="#c0c0c0"/>
<rect x="291" y="682" width="1" height="5" fill="#c0c0c0"/>
<rect x="295" y="682" width="1" height="4" fill="#c0c0c0"/>
<rect x="299" y="682" width="1" height="4" fill="#c0c0c0"/>
<rect x="303" y="682" width="1" height="4" fill="#c0c0c0"/>
<rect x="307" y="682" width="1" height="3" fill="#c0c0c0"/>
<rect x="311" y="682" width="1" height="4" fill="#c0c0c0"/>
<rect x="315" y="682" width="1" height="4" fill="#c0c0c0"/>
<rect x="319" y="682" width="1" height="4" fill="#c0c0c0"/>
<rect x="323" y="682" width="1" height="3" fill="#c0c0c0"/>
<rect x="327" y="682" width="1" height="2" fill="#c0c0c0"/>
<rect x="331" y="682" width="1" height="2" fill="#c0c0c0"/>
<rect x="335" y="682" width="1" height="1" fill="#c0c0c0"/>
<rect x="339" y="681" width="1" height="2" fill="#c0c0c0"/>
<rect x="343" y="675" width="1" height="8" fill="#c0c0c0"/>
<rect x="347" y="670" width="1" height="13" fill="#c0c0c0"/>
<rect x="351" y="658" width="1" height="25" fill="#c0c0c0"/>
<rect x="355" y="652" width="1" height="31" fill="#c0c0c0"/>
<rect x="359" y="645" width="1" height="38" fill="#c0c0c0"/>
<rect x="363" y="642" width="1" height="41" fill="#c0c0c0"/>
<rect x="367" y="637" width="1" height="46" fill="#c0c0c0"/>
<rect x="371" y="635" width="1" height="48" fill="#c0c0c0"/>
<rect x="375" y="633" width="1" height="50" fill="#c0c0c0"/>
<rect x="379" y="638" width="1" height="45" fill="#c0c0c0"/>
<rect x="383" y="640" width="1" height="43" fill="#c0c0c0"/>
<rect x="387" y="642" width="1" height="41" fill="#c0c0c0"/>
<rect x="391" y="644" width="1" height="39" fill="#c0c0c0"/>
<rect x="395" y="646" width="1" height="37" fill="#c0c0c0"/>
<rect x="399" y="647" width="1" height="36" fill="#c0c0c0"/>
<rect x="403" y="648" width="1" height="35" fill="#c0c0c0"/>
<rect x="407" y="649" width="1" height="34" fill="#c0c0c0"/>
<rect x="411" y="649" width="1" height="34" fill="#c0c0c0"/>
<rect x="415" y="646" width="1" height="37" fill="#c0c0c0"/>
<rect x="419" y="644" width="1" height="39" fill="#c0c0c0"/>
<rect x="423" y="640" width="1" height="43" fill="#c0c0c0"/>
<rect x="427" y="638" width="1" height="45" fill="#c0c0c0"/>
<rect x="431" y="637" width="1" height="46" fill="#c0c0c0"/>
<rect x="435" y="638" width="1" height="45" fill="#c0c0c0"/>
<rect x="439" y="638" width="1" height="45" fill="#c0c0c0"/>
<rect x="443" y="639" width="1" height="44" fill="#c0c0c0"/>
<rect x="447" y="638" width="1" height="45" fill="#c0c0c0"/>
<rect x="451" y="639" width="1" height="44" fill="#c0c0c0"/>
<rect x="455" y="642" width="1" height="41" fill="#c0c0c0"/>
<rect x="459" y="645" width="1" height="38" fill="#c0c0c0"/>
<rect x="463" y="650" width="1" height="33" fill="#c0c0c0"/>
<rect x="467" y="655" width="1" height="28" fill="#c0c0c0"/>
<rect x="471" y="658" width="1" height="25" fill="#c0c0c0"/>
<rect x="475" y="662" width="1" height="21" fill="#c0c0c0"/>
<rect x="479" y="664" width="1" height="19" fill="#c0c0c0"/>
<rect x="483" y="670" width="1" height="13" fill="#c0c0c0"/>
<rect x="487" y="677" width="1" height="6" fill="#c0c0c0"/>
<rect x="491" y="681" width="1" height="2" fill="#c0c0c0"/>
<rect x="495" y="682" width="1" height="2" fill="#c0c0c0"/>
<rect x="499" y="682" width="1" height="3" fill="#c0c0c0"/>
<rect x="503" y="682" width="1" height="3" fill="#c0c0c0"/>
<rect x="507" y="682" width="1" height="2" fill="#c0c0c0"/>
<rect x="511" y="682" width="1" height="2" fill="#c0c0c0"/>
<rect x="515" y="681" width="1" height="2" fill="#c0c0c0"/>
<rect x="519" y="680" width="1" height="3" fill="#c0c0c0"/>
<rect x="523" y="679" width="1" height="4" fill="#c0c0c0"/>
<rect x="527" y="677" width="1" height="6" fill="#c0c0c0"/>
<rect x="531" y="676" width="1" height="7" fill="#c0c0c0"/>
<rect x="535" y="674" width="1" height="9" fill="#c0c0c0"/>
<rect x="539" y="672" width="1" height="11" fill="#c0c0c0"/>
<rect x="543" y="671" width="1" height="12" fill="#c0c0c0"/>
<rect x="547" y="670" width="1" height="13" fill="#c0c0c0"/>
<rect x="551" y="670" width="1" height="13" fill="#c0c0c0"/>
<rect x="555" y="671" width="1" height="12" fill="#c0c0c0"/>
<rect x="559" y="673" width="1" height="10" fill="#c0c0c0"/>
<rect x="563" y="675" width="1" height="8" fill="#c0c0c0"/>
<rect x="567" y="675" width="1" height="8" fill="#c0c0c0"/>
<rect x="571" y="673" width="1" height="10" fill="#c0c0c0"/>
<rect x="575" y="673" width="1" height="10" fill="#c0c0c0"/>
<rect x="579" y="676" width="1" height="7" fill="#c0c0c0"/>
<rect x="583" y="679" width="1" height="4" fill="#c0c0c0"/>
<rect x="587" y="682" width="1" height="2" fill="#c0c0c0"/>
<rect x="591" y="682" width="1" height="5" fill="#c0c0c0"/>
<rect x="595" y="682" width="1" height="6" fill="#c0c0c0"/>
<rect x="599" y="682" width="1" height="6" fill="#c0c0c0"/>
<rect x="603" y="682" width="1" height="7" fill="#c0c0c0"/>
<rect x="607" y="682" width="1" height="8" fill="#c0c0c0"/>
<rect x="611" y="682" width="1" height="9" fill="#c0c0c0"/>
<rect x="615" y="682" width="1" height="10" fill="#c0c0c0"/>
<rect x="619" y="682" width="1" height="10" fill="#c0c0c0"/>
<rect x="623" y="682" width="1" height="11" fill="#c0c0c0"/>
<rect x="627" y="682" width="1" height="12" fill="#c0c0c0"/>
<rect x="631" y="682" width="1" height="12" fill="#c0c0c0"/>
<rect x="635" y="682" width="1" height="13" fill="#c0c0c0"/>
<rect x="639" y="682" width="1" height="13" fill="#c0c0c0"/>
<rect x="643" y="682" width="1" height="13" fill="#c0c0c0"/>
<rect x="647" y="682" width="1" height="13" fill="#c0c0c0"/>
<rect x="651" y="682" width="1" height="14" fill="#c0c0c0"/>
<rect x="655" y="682" width="1" height="15" fill="#c0c0c0"/>
<rect x="659" y="682" width="1" height="15" fill="#c0c0c0"/>
<rect x="663" y="682" width="1" height="16" fill="#c0c0c0"/>
<rect x="667" y="682" width="1" height="19" fill="#c0c0c0"/>
<rect x="671" y="682" width="1" height="21" fill="#c0c0c0"/>
<rect x="675" y="682" width="1" height="24" fill="#c0c0c0"/>
<rect x="679" y="682" width="1" height="24" fill="#c0c0c0"/>
<rect x="683" y="682" width="1" height="25" fill="#c0c0c0"/>
<rect x="687" y="682" width="1" height="24" fill="#c0c0c0"/>
<rect x="691" y="682" width="1" height="22" fill="#c0c0c0"/>
<rect x="695" y="682" width="1" height="20" fill="#c0c0c0"/>
<rect x="699" y="682" width="1" height="18" fill="#c0c0c0"/>
<rect x="703" y="682" width="1" height="18" fill="#c0c0c0"/>
<rect x="707" y="682" width="1" height="18" fill="#c0c0c0"/>
<rect x="711" y="682" width="1" height="16" fill="#c0c0c0"/>
<rect x="715" y="682" width="1" height="14" fill="#c0c0c0"/>
<rect x="719" y="682" width="1" height="11" fill="#c0c0c0"/>
<rect x="723" y="682" width="1" height="10" fill="#c0c0c0"/>
<rect x="727" y="682" width="1" height="7" fill="#c0c0c0"/>
<rect x="731" y="682" width="1" height="6" fill="#c0c0c0"/>
<rect x="735" y="682" width="1" height="6" fill="#c0c0c0"/>
<rect x="739" y="682" width="1" height="6" fill="#c0c0c0"/>
<rect x="743" y="682" width="1" height="6" fill="#c0c0c0"/>
<rect x="747" y="682" width="1" height="6" fill="#c0c0c0"/>
<rect x="751" y="682" width="1" height="5" fill="#c0c0c0"/>
<rect x="755" y="682" width="1" height="4" fill="#c0c0c0"/>
<rect x="759" y="682" width="1" height="3" fill="#c0c0c0"/>
<rect x="763" y="681" width="1" height="2" fill="#c0c0c0"/>
<rect x="767" y="680" width="1" height="3" fill="#c0c0c0"/>
<rect x="771" y="680" width="1" height="3" fill="#c0c0c0"/>
<rect x="775" y="681" width="1" height="2" fill="#c0c0c0"/>
<rect x="779" y="682" width="1" height="1" fill="#c0c0c0"/>
<rect x="783" y="682" width="1" height="1" fill="#c0c0c0"/>
<rect x="787" y="682" width="1" height="2" fill="#c0c0c0"/>
<rect x="791" y="682" width="1" height="2" fill="#c0c0c0"/>
<rect x="795" y="682" width="1" height="6" fill="#c0c0c0"/>
<rect x="799" y="682" width="1" height="6" fill="#c0c0c0"/>
<rect x="803" y="682" width="1" height="7" fill="#c0c0c0"/>
<rect x="807" y="682" width="1" height="9" fill="#c0c0c0"/>
<rect x="811" y="682" width="1" height="10" fill="#c0c0c0"/>
<rect x="815" y="682" width="1" height="10" fill="#c0c0c0"/>
<rect x="819" y="682" width="1" height="10" fill="#c0c0c0"/>
<rect x="823" y="682" width="1" height="10" fill="#c0c0c0"/>
<rect x="827" y="682" width="1" height="10" fill="#c0c0c0"/>
<rect x="831" y="682" width="1" height="9" fill="#c0c0c0"/>
<rect x="835" y="682" width="1" height="9" fill="#c0c0c0"/>
<rect x="839" y="682" width="1" height="9" fill="#c0c0c0"/>
<rect x="843" y="682" width="1" height="9" fill="#c0c0c0"/>
<rect x="847" y="682" width="1" height="9" fill="#c0c0c0"/>
<rect x="851" y="682" width="1" height="10" fill="#c0c0c0"/>
<rect x="855" y="682" width="1" height="11" fill="#c0c0c0"/>
<rect x="859" y="682" width="1" height="12" fill="#c0c0c0"/>
<rect x="863" y="682" width="1" height="14" fill="#c0c0c0"/>
<rect x="867" y="682" width="1" height="15" fill="#c0c0c0"/>
<rect x="871" y="682" width="1" height="15" fill="#c0c0c0"/>
<rect x="875" y="682" width="1" height="15" fill="#c0c0c0"/>
<rect x="879" y="682" width="1" height="15" fill="#c0c0c0"/>
<rect x="883" y="682" width="1" height="16" fill="#c0c0c0"/>
<rect x="887" y="682" width="1" height="17" fill="#c0c0c0"/>
<rect x="891" y="682" width="1" height="18" fill="#c0c0c0"/>
<rect x="895" y="682" width="1" height="20" fill="#c0c0c0"/>
<rect x="899" y="682" width="1" height="22" fill="#c0c0c0"/>
<rect x="903" y="682" width="1" height="25" fill="#c0c0c0"/>
<rect x="907" y="682" width="1" height="27" fill="#c0c0c0"/>
<rect x="911" y="682" width="1" height="27" fill="#c0c0c0"/>
<rect x="915" y="682" width="1" height="29" fill="#c0c0c0"/>
<rect x="919" y="682" width="1" height="31" fill="#c0c0c0"/>
<rect x="923" y="682" width="1" height="31" fill="#c0c0c0"/>
<rect x="927" y="682" width="1" height="31" fill="#c0c0c0"/>
<rect x="931" y="682" width="1" height="28" fill="#c0c0c0"/>
<rect x="935" y="682" width="1" height="25" fill="#c0c0c0"/>
<rect x="939" y="682" width="1" height="21" fill="#c0c0c0"/>
<rect x="943" y="682" width="1" height="18" fill="#c0c0c0"/>
<rect x="947" y="682" width="1" height="15" fill="#c0c0c0"/>
<rect x="951" y="682" width="1" height="9" fill="#c0c0c0"/>
<rect x="955" y="682" width="1" height="5" fill="#c0c0c0"/>
<rect x="959" y="682" width="1" height="2" fill="#c0c0c0"/>
<rect x="963" y="679" width="1" height="4" fill="#c0c0c0"/>
<rect x="967" y="675" width="1" height="8" fill="#c0c0c0"/>
<rect x="971" y="673" width="1" height="10" fill="#c0c0c0"/>
<rect x="975" y="670" width="1" height="13" fill="#c0c0c0"/>
<rect x="979" y="669" width="1" height="14" fill="#c0c0c0"/>
<rect x="983" y="670" width="1" height="13" fill="#c0c0c0"/>
<rect x="987" y="671" width="1" height="12" fill="#c0c0c0"/>
<rect x="991" y="670" width="1" height="13" fill="#c0c0c0"/>
<rect x="995" y="669" width="1" height="14" fill="#c0c0c0"/>
<rect x="999" y="669" width="1" height="14" fill="#c0c0c0"/>
<rect x="1003" y="671" width="1" height="12" fill="#c0c0c0"/>
<rect x="1007" y="673" width="1" height="10" fill="#c0c0c0"/>
<rect x="1011" y="673" width="1" height="10" fill="#c0c0c0"/>
<rect x="1015" y="673" width="1" height="10" fill="#c0c0c0"/>
<rect x="1019" y="673" width="1" height="10" fill="#c0c0c0"/>
<rect x="1023" y="674" width="1" height="9" fill="#c0c0c0"/>
<rect x="1027" y="673" width="1" height="10" fill="#c0c0c0"/>
<rect x="1031" y="672" width="1" height="11" fill="#c0c0c0"/>
<rect x="1035" y="669" width="1" height="14" fill="#c0c0c0"/>
<rect x="1039" y="668" width="1" height="15" fill="#c0c0c0"/>
<rect x="1043" y="666" width="1" height="17" fill="#c0c0c0"/>
<rect x="1047" y="666" width="1" height="17" fill="#c0c0c0"/>
<rect x="1051" y="667" width="1" height="16" fill="#c0c0c0"/>
<rect x="1055" y="667" width="1" height="16" fill="#c0c0c0"/>
<rect x="1059" y="669" width="1" height="14" fill="#c0c0c0"/>
<rect x="1063" y="671" width="1" height="12" fill="#c0c0c0"/>
<rect x="1067" y="674" width="1" height="9" fill="#c0c0c0"/>
<rect x="1071" y="678" width="1" height="5" fill="#c0c0c0"/>
<rect x="1075" y="682" width="1" height="2" fill="#c0c0c0"/>
<rect x="1079" y="682" width="1" height="7" fill="#c0c0c0"/>
<rect x="1083" y="682" width="1" height="9" fill="#c0c0c0"/>
<rect x="1087" y="682" width="1" height="11" fill="#c0c0c0"/>
<rect x="1091" y="682" width="1" height="13" fill="#c0c0c0"/>
<rect x="1095" y="682" width="1" height="13" fill="#c0c0c0"/>
<rect x="1099" y="682" width="1" height="12" fill="#c0c0c0"/>
<rect x="1103" y="682" width="1" height="11" fill="#c0c0c0"/>
<rect x="1107" y="682" width="1" height="5" fill="#c0c0c0"/>
<rect x="1111" y="682" width="1" height="1" fill="#c0c0c0"/>
<rect x="1115" y="678" width="1" height="5" fill="#c0c0c0"/>
<rect x="1119" y="678" width="1" height="5" fill="#c0c0c0"/>
<rect x="1123" y="675" width="1" height="8" fill="#c0c0c0"/>
<rect x="1127" y="670" width="1" height="13" fill="#c0c0c0"/>
<rect x="1131" y="661" width="1" height="22" fill="#c0c0c0"/>
<rect x="1135" y="655" width="1" height="28" fill="#c0c0c0"/>
<rect x="1139" y="651" width="1" height="32" fill="#c0c0c0"/>
<rect x="1143" y="649" width="1" height="34" fill="#c0c0c0"/>
<rect x="1147" y="651" width="1" height="32" fill="#c0c0c0"/>
<rect x="1151" y="649" width="1" height="34" fill="#c0c0c0"/>
<rect x="1155" y="651" width="1" height="32" fill="#c0c0c0"/>
<rect x="1159" y="651" width="1" height="32" fill="#c0c0c0"/>
<rect x="1163" y="654" width="1" height="29" fill="#c0c0c0"/>
<rect x="1167" y="653" width="1" height="30" fill="#c0c0c0"/>
<rect x="1171" y="656" width="1" height="27" fill="#c0c0c0"/>
<rect x="1175" y="656" width="1" height="27" fill="#c0c0c0"/>
<rect x="1179" y="659" width="1" height="24" fill="#c0c0c0"/>
<rect x="1183" y="659" width="1" height="24" fill="#c0c0c0"/>
<rect x="1187" y="660" width="1" height="23" fill="#c0c0c0"/>
<rect x="1191" y="661" width="1" height="22" fill="#c0c0c0"/>
<rect x="1195" y="666" width="1" height="17" fill="#c0c0c0"/>
<rect x="1199" y="668" width="1" height="15" fill="#c0c0c0"/>
<rect x="1203" y="672" width="1" height="11" fill="#c0c0c0"/>
<rect x="1207" y="675" width="1" height="8" fill="#c0c0c0"/>
<rect x="1211" y="678" width="1" height="5" fill="#c0c0c0"/>
<rect x="1215" y="680" width="1" height="3" fill="#c0c0c0"/>
<rect x="1219" y="682" width="1" height="1" fill="#c0c0c0"/>
<rect x="1223" y="681" width="1" height="2" fill="#c0c0c0"/>
<rect x="1227" y="680" width="1" height="3" fill="#c0c0c0"/>
<rect x="1231" y="680" width="1" height="3" fill="#c0c0c0"/>
<rect x="1235" y="679" width="1" height="4" fill="#c0c0c0"/>
<rect x="1239" y="679" width="1" height="4" fill="#c0c0c0"/>
<rect x="1243" y="677" width="1" height="6" fill="#c0c0c0"/>
<rect x="1247" y="676" width="1" height="7" fill="#c0c0c0"/>
<rect x="1251" y="676" width="1" height="7" fill="#c0c0c0"/>
<rect x="1255" y="676" width="1" height="7" fill="#c0c0c0"/>
<rect x="1259" y="676" width="1" height="7" fill="#c0c0c0"/>
<rect x="1263" y="676" width="1" height="7" fill="#c0c0c0"/>
<rect x="1267" y="676" width="1" height="7" fill="#c0c0c0"/>
</g>
<polyline points="3.5,684.7 7.5,684.9 11.5,685.1 15.5,685.1 19.5,684.9 23.5,684.4 27.5,683.8 31.5,683.2 35.5,682.4 39.5,681.4 43.5,680.5 47.5,679.5 51.5,678.7 55.5,678.0 59.5,677.7 63.5,676.2 67.5,673.7 71.5,670.7 75.5,667.0 79.5,662.7 83.5,658.0 87.5,653.0 91.5,647.8 95.5,642.7 99.5,639.0 103.5,636.5 107.5,635.0 111.5,634.4 115.5,634.7 119.5,635.5 123.5,636.8 127.5,638.3 131.5,640.1 135.5,641.9 139.5,643.7 143.5,645.5 147.5,647.1 151.5,648.7 155.5,650.2 159.5,651.6 163.5,653.1 167.5,654.7 171.5,656.1 175.5,657.5 179.5,658.8 183.5,660.1 187.5,661.6 191.5,663.3 195.5,665.5 199.5,667.9 203.5,670.4 207.5,672.9 211.5,675.5 215.5,677.9 219.5,680.4 223.5,682.6 227.5,684.6 231.5,686.1 235.5,687.1 239.5,687.6 243.5,688.0 247.5,688.1 251.5,688.0 255.5,687.8 259.5,687.4 263.5,687.0 267.5,686.6 271.5,686.3 275.5,686.0 279.5,685.8 283.5,685.7 287.5,685.7 291.5,685.8 295.5,685.8 299.5,685.8 303.5,685.6 307.5,685.4 311.5,685.3 315.5,685.2 319.5,685.1 323.5,684.9 327.5,684.6 331.5,684.4 335.5,684.1 339.5,683.6 343.5,682.6 347.5,681.0 351.5,678.0 355.5,674.4 359.5,670.0 363.5,665.4 367.5,660.4 371.5,655.1 375.5,649.8 379.5,645.6 383.5,642.2 387.5,640.4 391.5,639.5 395.5,639.6 399.5,640.1 403.5,641.3 407.5,642.9 411.5,644.7 415.5,645.6 419.5,646.1 423.5,646.0 427.5,645.3 431.5,644.3 435.5,643.3 439.5,642.3 443.5,641.2 447.5,640.0 451.5,639.2 455.5,638.9 459.5,639.5 463.5,640.8 467.5,642.8 471.5,645.1 475.5,647.7 479.5,650.5 483.5,654.0 487.5,658.2 491.5,662.6 495.5,666.8 499.5,670.5 503.5,673.7 507.5,676.5 511.5,678.9 515.5,680.8 519.5,682.0 523.5,682.2 527.5,681.7 531.5,680.8 535.5,679.8 539.5,678.5 543.5,677.1 547.5,675.7 551.5,674.4 555.5,673.3 559.5,672.6 563.5,672.3 567.5,672.2 571.5,672.1 575.5,672.2 579.5,672.7 583.5,673.7 587.5,675.2 591.5,676.9 595.5,678.5 599.5,679.9 603.5,681.4 607.5,683.1 611.5,685.1 615.5,686.8 619.5,688.1 623.5,689.2 627.5,689.9 631.5,690.6 635.5,691.4 639.5,692.1 643.5,692.6 647.5,693.1 651.5,693.5 655.5,694.0 659.5,694.4 663.5,694.9 667.5,695.6 671.5,696.4 675.5,697.6 679.5,698.9 683.5,700.2 687.5,701.3 691.5,702.1 695.5,702.7 699.5,702.9 703.5,702.8 707.5,702.5 711.5,701.6 715.5,700.4 719.5,698.8 723.5,697.3 727.5,695.6 731.5,694.0 735.5,692.6 739.5,691.3 743.5,690.1 747.5,688.9 751.5,688.0 755.5,687.2 759.5,686.5 763.5,685.7 767.5,684.9 771.5,684.2 775.5,683.5 779.5,682.9 783.5,682.5 787.5,682.1 791.5,681.8 795.5,682.1 799.5,682.8 803.5,683.7 807.5,684.8 811.5,685.9 815.5,686.8 819.5,687.8 823.5,688.7 827.5,689.6 831.5,690.1 835.5,690.4 839.5,690.5 843.5,690.5 847.5,690.5 851.5,690.5 855.5,690.5 859.5,690.8 863.5,691.2 867.5,691.8 871.5,692.5 875.5,693.2 879.5,693.8 883.5,694.5 887.5,695.3 891.5,696.2 895.5,697.1 899.5,698.0 903.5,699.1 907.5,700.4 911.5,701.8 915.5,703.3 919.5,705.0 923.5,706.6 927.5,708.0 931.5,708.9 935.5,709.3 939.5,708.8 943.5,707.8 947.5,706.4 951.5,704.1 955.5,701.3 959.5,698.1 963.5,694.4 967.5,690.6 971.5,686.9 975.5,683.3 979.5,680.1 983.5,677.2 987.5,675.2 991.5,673.4 995.5,671.8 999.5,670.7 1003.5,670.3 1007.5,670.3 1011.5,670.6 1015.5,671.0 1019.5,671.3 1023.5,671.6 1027.5,671.9 1031.5,672.4 1035.5,672.4 1039.5,672.0 1043.5,671.3 1047.5,670.5 1051.5,669.8 1055.5,669.1 1059.5,668.6 1063.5,668.4 1067.5,668.6 1071.5,669.6 1075.5,671.2 1079.5,673.6 1083.5,676.2 1087.5,679.0 1091.5,682.0 1095.5,684.8 1099.5,687.2 1103.5,689.2 1107.5,690.0 1111.5,689.9 1115.5,688.9 1119.5,687.6 1123.5,685.7 1127.5,683.1 1131.5,679.5 1135.5,675.3 1139.5,670.8 1143.5,666.7 1147.5,663.3 1151.5,660.0 1155.5,657.0 1159.5,654.3 1163.5,652.5 1167.5,651.6 1171.5,651.7 1175.5,652.2 1179.5,653.3 1183.5,654.2 1187.5,655.4 1191.5,656.6 1195.5,658.2 1199.5,659.8 1203.5,661.9 1207.5,664.0 1211.5,666.5 1215.5,668.8 1219.5,671.3 1223.5,673.7 1227.5,675.9 1231.5,677.4 1235.5,678.6 1239.5,679.4 1243.5,679.6 1247.5,679.3 1251.5,678.9 1255.5,678.3 1259.5,677.7 1263.5,677.2 1267.5,676.7" fill="none" stroke="#ff0000" stroke-width="1" stroke-dasharray="3,3" shape-rendering="crispEdges"/>
</g>
<text x="7.4" y="637.5" font-size="10" fill="#000" text-anchor="start" textLength="148" lengthAdjust="spacingAndGlyphs">MACD(12,26,9) 0.007658 0.006379</text>
<rect x="1596" y="627" width="2" height="1" fill="#000"/>
<rect x="1596" y="682" width="2" height="1" fill="#000"/>
<rect x="1596" y="716" width="2" height="1" fill="#000"/>
<text x="1599" y="636" font-size="10" fill="#000" text-anchor="start" textLength="38" lengthAdjust="spacingAndGlyphs">0.063113</text>
<text x="1599" y="686" font-size="10" fill="#000" text-anchor="start" textLength="17" lengthAdjust="spacingAndGlyphs">0.00</text>
<text x="1599" y="713.5" font-size="10" fill="#000" text-anchor="start" textLength="40" lengthAdjust="spacingAndGlyphs">-0.038872</text>
<rect x="3" y="718" width="1" height="3" fill="#000"/>
<text x="2.7" y="730" font-size="10" fill="#000" text-anchor="start" textLength="50.8" lengthAdjust="spacingAndGlyphs">18 Apr 2019</text>
<rect x="67" y="718" width="1" height="3" fill="#000"/>
<text x="66.7" y="730" font-size="10" fill="#000" text-anchor="start" textLength="54.6" lengthAdjust="spacingAndGlyphs">14 May 2019</text>
<rect x="131" y="718" width="1" height="3" fill="#000"/>
<text x="130.7" y="730" font-size="10" fill="#000" text-anchor="start" textLength="44.8" lengthAdjust="spacingAndGlyphs">1 Jun 2019</text>
<rect x="195" y="718" width="1" height="3" fill="#000"/>
<text x="194.7" y="730" font-size="10" fill="#000" text-anchor="start" textLength="50.0" lengthAdjust="spacingAndGlyphs">20 Jun 2019</text>
<rect x="259" y="718" width="1" height="3" fill="#000"/>
<text x="258.7" y="730" font-size="10" fill="#000" text-anchor="start" textLength="41.8" lengthAdjust="spacingAndGlyphs">9 Jul 2019</text>
<rect x="323" y="718" width="1" height="3" fill="#000"/>
<text x="322.7" y="730" font-size="10" fill="#000" text-anchor="start" textLength="46.8" lengthAdjust="spacingAndGlyphs">27 Jul 2019</text>
<rect x="387" y="718" width="1" height="3" fill="#000"/>
<text x="386.7" y="730" font-size="10" fill="#000" text-anchor="start" textLength="53.3" lengthAdjust="spacingAndGlyphs">15 Aug 2019</text>
<rect x="451" y="718" width="1" height="3" fill="#000"/>
<text x="450.7" y="730" font-size="10" fill="#000" text-anchor="start" textLength="47.4" lengthAdjust="spacingAndGlyphs">3 Sep 2019</text>
<rect x="515" y="718" width="1" height="3" fill="#000"/>
<text x="514.7" y="730" font-size="10" fill="#000" text-anchor="start" textLength="52.0" lengthAdjust="spacingAndGlyphs">21 Sep 2019</text>
<rect x="579" y="718" width="1" height="3" fill="#000"/>
<text x="578.7" y="730" font-size="10" fill="#000" text-anchor="start" textLength="51.3" lengthAdjust="spacingAndGlyphs">10 Oct 2019</text>
<rect x="643" y="718" width="1" height="3" fill="#000"/>
<text x="642.7" y="730" font-size="10" fill="#000" text-anchor="start" textLength="51.3" lengthAdjust="spacingAndGlyphs">29 Oct 2019</text>
<rect x="707" y="718" width="1" height="3" fill="#000"/>
<text x="706.7" y="730" font-size="10" fill="#000" text-anchor="start" textLength="53.8" lengthAdjust="spacingAndGlyphs">16 Nov 2019</text>
<rect x="771" y="718" width="1" height="3" fill="#000"/>
<text x="770.7" y="730" font-size="10" fill="#000" text-anchor="start" textLength="46.8" lengthAdjust="spacingAndGlyphs">5 Dec 2019</text>
<rect x="835" y="718" width="1" height="3" fill="#000"/>
<text x="834.7" y="730" font-size="10" fill="#000" text-anchor="start" textLength="51.2" lengthAdjust="spacingAndGlyphs">24 Dec 2019</text>
<rect x="899" y="718" width="1" height="3" fill="#000"/>
<text x="898.7" y="730" font-size="10" fill="#000" text-anchor="start" textLength="50.3" lengthAdjust="spacingAndGlyphs">11 Jan 2020</text>
<rect x="963" y="718" width="1" height="3" fill="#000"/>
<text x="962.7" y="730" font-size="10" fill="#000" text-anchor="start" textLength="50.2" lengthAdjust="spacingAndGlyphs">30 Jan 2020</text>
<rect x="1027" y="718" width="1" height="3" fill="#000"/>
<text x="1026.7" y="730" font-size="10" fill="#000" text-anchor="start" textLength="51.6" lengthAdjust="spacingAndGlyphs">18 Feb 2020</text>
<rect x="1091" y="718" width="1" height="3" fill="#000"/>
<text x="1090.7" y="730" font-size="10" fill="#000" text-anchor="start" textLength="47.0" lengthAdjust="spacingAndGlyphs">7 Mar 2020</text>
<rect x="1155" y="718" width="1" height="3" fill="#000"/>
<text x="1154.7" y="730" font-size="10" fill="#000" text-anchor="start" textLength="51.6" lengthAdjust="spacingAndGlyphs">26 Mar 2020</text>
<rect x="1219" y="718" width="1" height="3" fill="#000"/>
<text x="1218.7" y="730" font-size="10" fill="#000" text-anchor="start" textLength="50.8" lengthAdjust="spacingAndGlyphs">14 Apr 2020</text>
<rect x="0" y="738" width="1639" height="1" fill="#e3e3e3"/>
<rect x="0" y="740" width="1639" height="20" fill="#f0f0f0"/>
<rect x="0" y="740" width="1639" height="1" fill="#000"/>
<rect x="416" y="740" width="104" height="19" fill="#ffffff"/>
<path d="M416.5,740 V758.5 H519.5 V740" fill="none" stroke="#000" stroke-width="1" shape-rendering="crispEdges"/>
<text x="15.9" y="755" font-size="12" fill="#6e6e6e" text-anchor="start" textLength="80.1" lengthAdjust="spacingAndGlyphs">EURUSD,Daily</text>
<text x="118.5" y="755" font-size="12" fill="#6e6e6e" text-anchor="start" textLength="78.9" lengthAdjust="spacingAndGlyphs">USDCHF,Daily</text>
<text x="219" y="755" font-size="12" fill="#6e6e6e" text-anchor="start" textLength="82" lengthAdjust="spacingAndGlyphs">AUDUSD,Daily</text>
<text x="323.6" y="755" font-size="12" fill="#6e6e6e" text-anchor="start" textLength="81.0" lengthAdjust="spacingAndGlyphs">USDCAD,Daily</text>
<text x="426" y="755" font-size="12" fill="#000000" text-anchor="start" textLength="83" lengthAdjust="spacingAndGlyphs">USDCNH,Daily</text>
<text x="532" y="755" font-size="12" fill="#6e6e6e" text-anchor="start" textLength="80.3" lengthAdjust="spacingAndGlyphs">EURUSD,Daily</text>
<text x="634.6" y="755" font-size="12" fill="#6e6e6e" text-anchor="start" textLength="70.4" lengthAdjust="spacingAndGlyphs">GBPUSD,M5</text>
<text x="727" y="755" font-size="12" fill="#6e6e6e" text-anchor="start" textLength="69" lengthAdjust="spacingAndGlyphs">XAUUSD,H1</text>
<text x="819" y="755" font-size="12" fill="#6e6e6e" text-anchor="start" textLength="49.5" lengthAdjust="spacingAndGlyphs">HK50,H1</text>
<text x="891" y="755" font-size="12" fill="#6e6e6e" text-anchor="start" textLength="56" lengthAdjust="spacingAndGlyphs">UK100,H1</text>
<text x="971.7" y="755" font-size="12" fill="#6e6e6e" text-anchor="start" textLength="55.7" lengthAdjust="spacingAndGlyphs">UK100,H1</text>
<text x="1050.8" y="755" font-size="12" fill="#6e6e6e" text-anchor="start" textLength="56.5" lengthAdjust="spacingAndGlyphs">GER30,H1</text>
<text x="1129.9" y="755" font-size="12" fill="#6e6e6e" text-anchor="start" textLength="54.1" lengthAdjust="spacingAndGlyphs">FRA40,H1</text>
<text x="1206" y="755" font-size="12" fill="#6e6e6e" text-anchor="start" textLength="50.7" lengthAdjust="spacingAndGlyphs">USOil,H1</text>
<text x="1277.7" y="755" font-size="12" fill="#6e6e6e" text-anchor="start" textLength="74.7" lengthAdjust="spacingAndGlyphs">USDJPY,Daily</text>
<rect x="109" y="744" width="1" height="12" fill="#7a7a7a"/>
<rect x="209" y="744" width="1" height="12" fill="#7a7a7a"/>
<rect x="313" y="744" width="1" height="12" fill="#7a7a7a"/>
<rect x="625" y="744" width="1" height="12" fill="#7a7a7a"/>
<rect x="717" y="744" width="1" height="12" fill="#7a7a7a"/>
<rect x="809" y="744" width="1" height="12" fill="#7a7a7a"/>
<rect x="881" y="744" width="1" height="12" fill="#7a7a7a"/>
<rect x="960" y="744" width="1" height="12" fill="#7a7a7a"/>
<rect x="1041" y="744" width="1" height="12" fill="#7a7a7a"/>
<rect x="1120" y="744" width="1" height="12" fill="#7a7a7a"/>
<rect x="1196" y="744" width="1" height="12" fill="#7a7a7a"/>
<rect x="1268" y="744" width="1" height="12" fill="#7a7a7a"/>
<rect x="1364" y="744" width="1" height="12" fill="#7a7a7a"/>
<polygon points="1610,748 1614,744 1614,752" fill="#a8a8a8"/>
<polygon points="1633,748 1629,744 1629,752" fill="#a8a8a8"/>
</svg>
</body></html>
